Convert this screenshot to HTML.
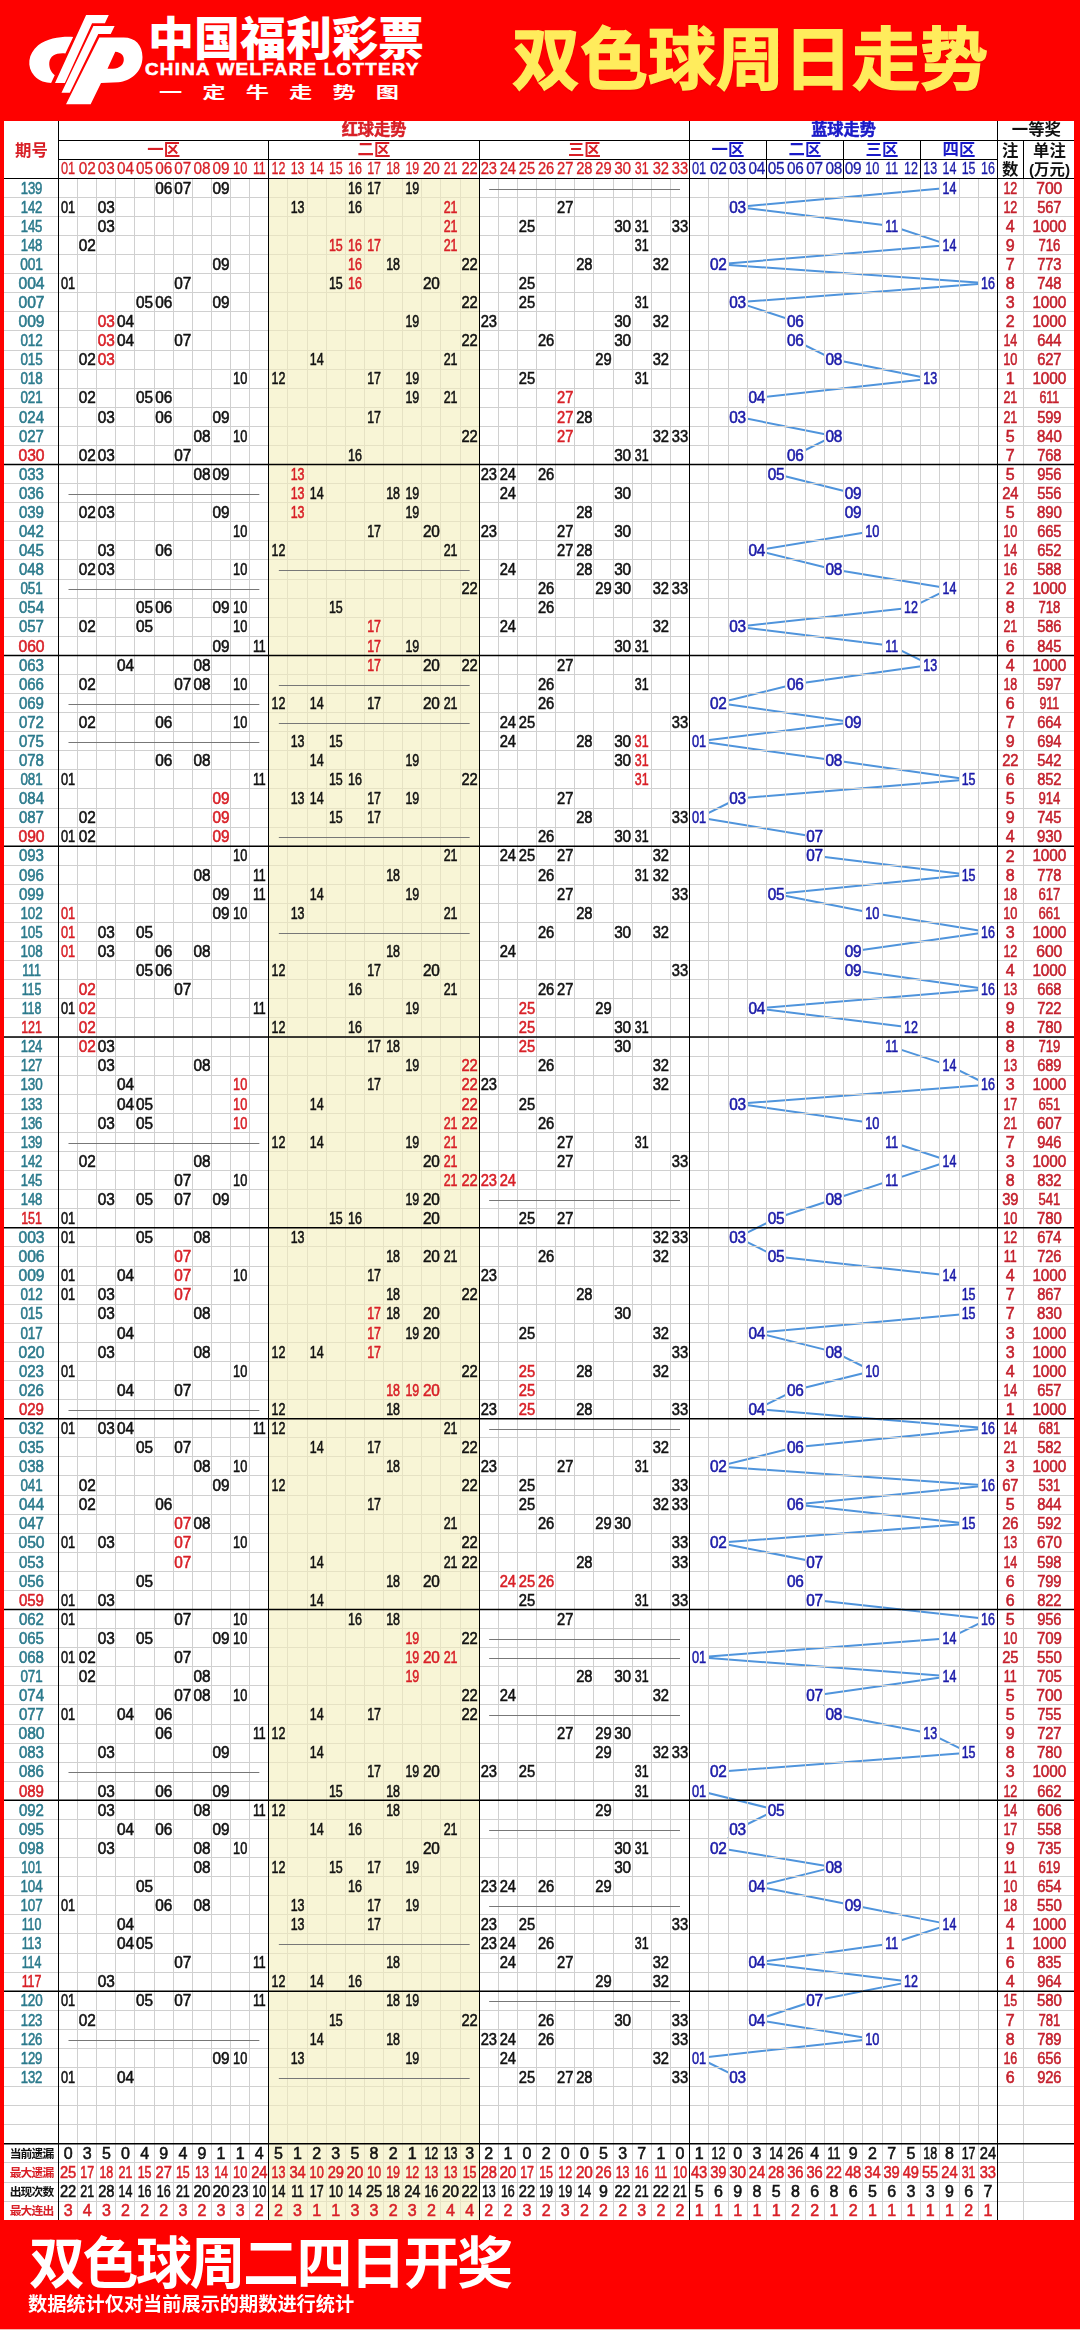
<!DOCTYPE html>
<html lang="zh-CN"><head><meta charset="utf-8"><title>双色球周日走势</title>
<style>
html,body{margin:0;padding:0}
body{width:1080px;height:2330px;background:#fe0100;position:relative;overflow:hidden;font-family:"Liberation Sans","Noto Sans CJK SC",sans-serif}
.chart{position:absolute;left:0;top:0;will-change:transform}
.chart text{text-anchor:middle;font-family:"Liberation Sans","Noto Sans CJK SC",sans-serif}
.n text{font-size:16px;letter-spacing:-0.1px;fill:#111;stroke-width:.55px;paint-order:stroke}
.n text{stroke:#111}
.n .r, .n.r text{fill:#d81f26;stroke:#d81f26}
.n .bl, .n.bl text{fill:#1a1aa8;stroke:#1a1aa8}
.n.hn text{stroke-width:.3px}
.n text{transform-box:fill-box;transform-origin:center}
.s78{transform:scaleX(0.78)}
.s80{transform:scaleX(0.8)}
.s82{transform:scaleX(0.82)}
.s84{transform:scaleX(0.84)}
.s86{transform:scaleX(0.86)}
.s92{transform:scaleX(0.92)}
.s94{transform:scaleX(0.94)}
.s96{transform:scaleX(0.96)}
.s98{transform:scaleX(0.98)}
.n .t{fill:#2b7a8c;stroke:#2b7a8c}
.n .p{fill:#c41f2b;stroke:#c41f2b}
.lab{font-size:11.8px;font-weight:700;letter-spacing:-0.9px;fill:#111}
.lab.r{fill:#d81f26}
.hd text{font-weight:700}
.b14{font-size:16.2px;stroke-width:.5px;paint-order:stroke}.b14.r{stroke:#d81f26}.b14.bl{stroke:#1a1ac8}.b15{font-size:16.4px}.b16{font-size:16.4px}
.hd .r{fill:#d81f26}.hd .bl{fill:#1a1ac8}.hd .k{fill:#111}
.logo{position:absolute;left:20px;top:0}
.cn{position:absolute;left:148px;top:8px;font-size:46px;font-weight:900;color:#fff;white-space:nowrap;line-height:62px;letter-spacing:0}
.en{position:absolute;left:145px;top:58.5px;font-size:17px;font-weight:700;color:#fff;white-space:nowrap;line-height:22px;letter-spacing:1.2px;transform:scaleX(1.1);transform-origin:left center;-webkit-text-stroke:.6px #fff}
.sub{position:absolute;left:159px;top:81.5px;font-size:16px;font-weight:700;color:#fff;white-space:nowrap;line-height:22px;letter-spacing:13.9px;transform:scaleX(1.45);transform-origin:left center}
.title{position:absolute;left:512px;top:15px;font-size:68px;font-weight:700;color:#ffec5c;-webkit-text-stroke:1.4px #ffec5c;white-space:nowrap;line-height:90px;text-shadow:0 1px 2px rgba(150,0,0,.45)}
.edge{position:absolute;left:0;top:2329px;width:1080px;height:1px;background:#f3b9b0}
.f1{position:absolute;left:29px;top:2224px;font-size:56px;font-weight:700;color:#fff;white-space:nowrap;line-height:80px;letter-spacing:-2.5px}
.f2{position:absolute;left:28px;top:2292px;font-size:19.2px;font-weight:700;color:#fff;white-space:nowrap;line-height:26px}
</style></head><body>
<svg class="logo" viewBox="0 0 1080 926" width="140" height="120">
<g fill="#fff">
<path fill-rule="evenodd" d="M410 285 C330 280 215 290 140 350 C60 415 50 520 110 585 C150 628 200 640 240 640 L268 580 C240 560 222 520 226 480 C232 430 280 405 350 412 Z"/>
<path d="M510 115H685L655 180H556L346 640H270Z"/>
<path d="M566 200H730L700 262H604L384 715H320Z"/>
<path fill-rule="evenodd" d="M612 290H800C890 290 945 350 945 440C945 560 850 625 760 635L625 640L545 805H355ZM735 400L675 530C740 535 790 520 800 470C806 430 780 405 735 400Z"/>
</g></svg>
<div class="cn">中国福利彩票</div>
<div class="en">CHINA WELFARE LOTTERY</div>
<div class="sub">一定牛走势图</div>
<div class="title">双色球周日走势</div>
<svg class="chart" width="1080" height="2330" viewBox="0 0 1080 2330">
<defs><clipPath id="wc"><rect x="4" y="121" width="1070" height="2099"/></clipPath></defs>
<rect x="4" y="121" width="1070" height="2099" fill="#fff"/>
<rect x="268.83" y="178.3" width="210.33" height="2041.7" fill="#f8f5d6"/>
<polyline points="949.38,187.84 737.62,206.92 891.62,226.01 949.38,245.09 718.38,264.17 987.88,283.26 737.62,302.34 795.38,321.42 795.38,340.51 833.88,359.59 930.12,378.67 756.88,397.75 737.62,416.84 833.88,435.92 795.38,455 776.12,474.09 853.12,493.17 853.12,512.25 872.38,531.34 756.88,550.42 833.88,569.5 949.38,588.58 910.88,607.67 737.62,626.75 891.62,645.83 930.12,664.92 795.38,684 718.38,703.08 853.12,722.17 699.12,741.25 833.88,760.33 968.62,779.41 737.62,798.5 699.12,817.58 814.62,836.66 814.62,855.75 968.62,874.83 776.12,893.91 872.38,913 987.88,932.08 853.12,951.16 853.12,970.24 987.88,989.33 756.88,1008.41 910.88,1027.49 891.62,1046.58 949.38,1065.66 987.88,1084.74 737.62,1103.83 872.38,1122.91 891.62,1141.99 949.38,1161.07 891.62,1180.16 833.88,1199.24 776.12,1218.32 737.62,1237.41 776.12,1256.49 949.38,1275.57 968.62,1294.66 968.62,1313.74 756.88,1332.82 833.88,1351.9 872.38,1370.99 795.38,1390.07 756.88,1409.15 987.88,1428.24 795.38,1447.32 718.38,1466.4 987.88,1485.49 795.38,1504.57 968.62,1523.65 718.38,1542.73 814.62,1561.82 795.38,1580.9 814.62,1599.98 987.88,1619.07 949.38,1638.15 699.12,1657.23 949.38,1676.32 814.62,1695.4 833.88,1714.48 930.12,1733.56 968.62,1752.65 718.38,1771.73 699.12,1790.81 776.12,1809.9 737.62,1828.98 718.38,1848.06 833.88,1867.15 756.88,1886.23 853.12,1905.31 949.38,1924.39 891.62,1943.48 756.88,1962.56 910.88,1981.64 814.62,2000.73 756.88,2019.81 872.38,2038.89 699.12,2057.98 737.62,2077.06" fill="none" stroke="#4f94dc" stroke-width="2" stroke-linejoin="round"/>
<g fill="#fff">
<rect x="939.75" y="178.3" width="19.25" height="19.08"/>
<rect x="728" y="197.38" width="19.25" height="19.08"/>
<rect x="882" y="216.47" width="19.25" height="19.08"/>
<rect x="939.75" y="235.55" width="19.25" height="19.08"/>
<rect x="708.75" y="254.63" width="19.25" height="19.08"/>
<rect x="978.25" y="273.72" width="19.25" height="19.08"/>
<rect x="728" y="292.8" width="19.25" height="19.08"/>
<rect x="785.75" y="311.88" width="19.25" height="19.08"/>
<rect x="785.75" y="330.96" width="19.25" height="19.08"/>
<rect x="824.25" y="350.05" width="19.25" height="19.08"/>
<rect x="920.5" y="369.13" width="19.25" height="19.08"/>
<rect x="747.25" y="388.21" width="19.25" height="19.08"/>
<rect x="728" y="407.3" width="19.25" height="19.08"/>
<rect x="824.25" y="426.38" width="19.25" height="19.08"/>
<rect x="785.75" y="445.46" width="19.25" height="19.08"/>
<rect x="766.5" y="464.55" width="19.25" height="19.08"/>
<rect x="843.5" y="483.63" width="19.25" height="19.08"/>
<rect x="843.5" y="502.71" width="19.25" height="19.08"/>
<rect x="862.75" y="521.79" width="19.25" height="19.08"/>
<rect x="747.25" y="540.88" width="19.25" height="19.08"/>
<rect x="824.25" y="559.96" width="19.25" height="19.08"/>
<rect x="939.75" y="579.04" width="19.25" height="19.08"/>
<rect x="901.25" y="598.13" width="19.25" height="19.08"/>
<rect x="728" y="617.21" width="19.25" height="19.08"/>
<rect x="882" y="636.29" width="19.25" height="19.08"/>
<rect x="920.5" y="655.38" width="19.25" height="19.08"/>
<rect x="785.75" y="674.46" width="19.25" height="19.08"/>
<rect x="708.75" y="693.54" width="19.25" height="19.08"/>
<rect x="843.5" y="712.62" width="19.25" height="19.08"/>
<rect x="689.5" y="731.71" width="19.25" height="19.08"/>
<rect x="824.25" y="750.79" width="19.25" height="19.08"/>
<rect x="959" y="769.87" width="19.25" height="19.08"/>
<rect x="728" y="788.96" width="19.25" height="19.08"/>
<rect x="689.5" y="808.04" width="19.25" height="19.08"/>
<rect x="805" y="827.12" width="19.25" height="19.08"/>
<rect x="805" y="846.2" width="19.25" height="19.08"/>
<rect x="959" y="865.29" width="19.25" height="19.08"/>
<rect x="766.5" y="884.37" width="19.25" height="19.08"/>
<rect x="862.75" y="903.45" width="19.25" height="19.08"/>
<rect x="978.25" y="922.54" width="19.25" height="19.08"/>
<rect x="843.5" y="941.62" width="19.25" height="19.08"/>
<rect x="843.5" y="960.7" width="19.25" height="19.08"/>
<rect x="978.25" y="979.79" width="19.25" height="19.08"/>
<rect x="747.25" y="998.87" width="19.25" height="19.08"/>
<rect x="901.25" y="1017.95" width="19.25" height="19.08"/>
<rect x="882" y="1037.03" width="19.25" height="19.08"/>
<rect x="939.75" y="1056.12" width="19.25" height="19.08"/>
<rect x="978.25" y="1075.2" width="19.25" height="19.08"/>
<rect x="728" y="1094.28" width="19.25" height="19.08"/>
<rect x="862.75" y="1113.37" width="19.25" height="19.08"/>
<rect x="882" y="1132.45" width="19.25" height="19.08"/>
<rect x="939.75" y="1151.53" width="19.25" height="19.08"/>
<rect x="882" y="1170.62" width="19.25" height="19.08"/>
<rect x="824.25" y="1189.7" width="19.25" height="19.08"/>
<rect x="766.5" y="1208.78" width="19.25" height="19.08"/>
<rect x="728" y="1227.86" width="19.25" height="19.08"/>
<rect x="766.5" y="1246.95" width="19.25" height="19.08"/>
<rect x="939.75" y="1266.03" width="19.25" height="19.08"/>
<rect x="959" y="1285.11" width="19.25" height="19.08"/>
<rect x="959" y="1304.2" width="19.25" height="19.08"/>
<rect x="747.25" y="1323.28" width="19.25" height="19.08"/>
<rect x="824.25" y="1342.36" width="19.25" height="19.08"/>
<rect x="862.75" y="1361.45" width="19.25" height="19.08"/>
<rect x="785.75" y="1380.53" width="19.25" height="19.08"/>
<rect x="747.25" y="1399.61" width="19.25" height="19.08"/>
<rect x="978.25" y="1418.69" width="19.25" height="19.08"/>
<rect x="785.75" y="1437.78" width="19.25" height="19.08"/>
<rect x="708.75" y="1456.86" width="19.25" height="19.08"/>
<rect x="978.25" y="1475.94" width="19.25" height="19.08"/>
<rect x="785.75" y="1495.03" width="19.25" height="19.08"/>
<rect x="959" y="1514.11" width="19.25" height="19.08"/>
<rect x="708.75" y="1533.19" width="19.25" height="19.08"/>
<rect x="805" y="1552.28" width="19.25" height="19.08"/>
<rect x="785.75" y="1571.36" width="19.25" height="19.08"/>
<rect x="805" y="1590.44" width="19.25" height="19.08"/>
<rect x="978.25" y="1609.52" width="19.25" height="19.08"/>
<rect x="939.75" y="1628.61" width="19.25" height="19.08"/>
<rect x="689.5" y="1647.69" width="19.25" height="19.08"/>
<rect x="939.75" y="1666.77" width="19.25" height="19.08"/>
<rect x="805" y="1685.86" width="19.25" height="19.08"/>
<rect x="824.25" y="1704.94" width="19.25" height="19.08"/>
<rect x="920.5" y="1724.02" width="19.25" height="19.08"/>
<rect x="959" y="1743.11" width="19.25" height="19.08"/>
<rect x="708.75" y="1762.19" width="19.25" height="19.08"/>
<rect x="689.5" y="1781.27" width="19.25" height="19.08"/>
<rect x="766.5" y="1800.35" width="19.25" height="19.08"/>
<rect x="728" y="1819.44" width="19.25" height="19.08"/>
<rect x="708.75" y="1838.52" width="19.25" height="19.08"/>
<rect x="824.25" y="1857.6" width="19.25" height="19.08"/>
<rect x="747.25" y="1876.69" width="19.25" height="19.08"/>
<rect x="843.5" y="1895.77" width="19.25" height="19.08"/>
<rect x="939.75" y="1914.85" width="19.25" height="19.08"/>
<rect x="882" y="1933.94" width="19.25" height="19.08"/>
<rect x="747.25" y="1953.02" width="19.25" height="19.08"/>
<rect x="901.25" y="1972.1" width="19.25" height="19.08"/>
<rect x="805" y="1991.18" width="19.25" height="19.08"/>
<rect x="747.25" y="2010.27" width="19.25" height="19.08"/>
<rect x="862.75" y="2029.35" width="19.25" height="19.08"/>
<rect x="689.5" y="2048.43" width="19.25" height="19.08"/>
<rect x="728" y="2067.52" width="19.25" height="19.08"/>
</g>
<path d="M4 197.5H1074M4 216.5H1074M4 235.5H1074M4 254.5H1074M4 273.5H1074M4 292.5H1074M4 311.5H1074M4 330.5H1074M4 350.5H1074M4 369.5H1074M4 388.5H1074M4 407.5H1074M4 426.5H1074M4 445.5H1074M4 464.5H1074M4 483.5H1074M4 502.5H1074M4 521.5H1074M4 540.5H1074M4 559.5H1074M4 579.5H1074M4 598.5H1074M4 617.5H1074M4 636.5H1074M4 655.5H1074M4 674.5H1074M4 693.5H1074M4 712.5H1074M4 731.5H1074M4 750.5H1074M4 769.5H1074M4 788.5H1074M4 808.5H1074M4 827.5H1074M4 846.5H1074M4 865.5H1074M4 884.5H1074M4 903.5H1074M4 922.5H1074M4 941.5H1074M4 960.5H1074M4 979.5H1074M4 998.5H1074M4 1017.5H1074M4 1037.5H1074M4 1056.5H1074M4 1075.5H1074M4 1094.5H1074M4 1113.5H1074M4 1132.5H1074M4 1151.5H1074M4 1170.5H1074M4 1189.5H1074M4 1208.5H1074M4 1227.5H1074M4 1246.5H1074M4 1266.5H1074M4 1285.5H1074M4 1304.5H1074M4 1323.5H1074M4 1342.5H1074M4 1361.5H1074M4 1380.5H1074M4 1399.5H1074M4 1418.5H1074M4 1437.5H1074M4 1456.5H1074M4 1475.5H1074M4 1495.5H1074M4 1514.5H1074M4 1533.5H1074M4 1552.5H1074M4 1571.5H1074M4 1590.5H1074M4 1609.5H1074M4 1628.5H1074M4 1647.5H1074M4 1666.5H1074M4 1685.5H1074M4 1704.5H1074M4 1724.5H1074M4 1743.5H1074M4 1762.5H1074M4 1781.5H1074M4 1800.5H1074M4 1819.5H1074M4 1838.5H1074M4 1857.5H1074M4 1876.5H1074M4 1895.5H1074M4 1914.5H1074M4 1933.5H1074M4 1953.5H1074M4 1972.5H1074M4 1991.5H1074M4 2010.5H1074M4 2029.5H1074M4 2048.5H1074M4 2067.5H1074M4 2086.5H1074M4 2105.5H1074M4 2124.5H1074M4 2143.5H1074M4 2162.5H1074M4 2182.5H1074M4 2201.5H1074" stroke="#d0d0d0" stroke-width="1" fill="none"/>
<path d="M77.5 178.3V2220M96.5 178.3V2220M115.5 178.3V2220M134.5 178.3V2220M154.5 178.3V2220M173.5 178.3V2220M192.5 178.3V2220M211.5 178.3V2220M230.5 178.3V2220M249.5 178.3V2220M268.5 178.3V2220M287.5 178.3V2220M307.5 178.3V2220M326.5 178.3V2220M345.5 178.3V2220M364.5 178.3V2220M383.5 178.3V2220M402.5 178.3V2220M421.5 178.3V2220M440.5 178.3V2220M460.5 178.3V2220M479.5 178.3V2220M498.5 178.3V2220M517.5 178.3V2220M536.5 178.3V2220M555.5 178.3V2220M574.5 178.3V2220M593.5 178.3V2220M613.5 178.3V2220M632.5 178.3V2220M651.5 178.3V2220M670.5 178.3V2220M708.5 178.3V2220M728.5 178.3V2220M747.5 178.3V2220M766.5 178.3V2220M785.5 178.3V2220M805.5 178.3V2220M824.5 178.3V2220M843.5 178.3V2220M862.5 178.3V2220M882.5 178.3V2220M901.5 178.3V2220M920.5 178.3V2220M939.5 178.3V2220M959.5 178.3V2220M978.5 178.3V2220M1023.5 178.3V2220" stroke="#d0d0d0" stroke-width="1" fill="none"/>
<path d="M268.83 197.5H479.17M268.83 216.5H479.17M268.83 235.5H479.17M268.83 254.5H479.17M268.83 273.5H479.17M268.83 292.5H479.17M268.83 311.5H479.17M268.83 330.5H479.17M268.83 350.5H479.17M268.83 369.5H479.17M268.83 388.5H479.17M268.83 407.5H479.17M268.83 426.5H479.17M268.83 445.5H479.17M268.83 464.5H479.17M268.83 483.5H479.17M268.83 502.5H479.17M268.83 521.5H479.17M268.83 540.5H479.17M268.83 559.5H479.17M268.83 579.5H479.17M268.83 598.5H479.17M268.83 617.5H479.17M268.83 636.5H479.17M268.83 655.5H479.17M268.83 674.5H479.17M268.83 693.5H479.17M268.83 712.5H479.17M268.83 731.5H479.17M268.83 750.5H479.17M268.83 769.5H479.17M268.83 788.5H479.17M268.83 808.5H479.17M268.83 827.5H479.17M268.83 846.5H479.17M268.83 865.5H479.17M268.83 884.5H479.17M268.83 903.5H479.17M268.83 922.5H479.17M268.83 941.5H479.17M268.83 960.5H479.17M268.83 979.5H479.17M268.83 998.5H479.17M268.83 1017.5H479.17M268.83 1037.5H479.17M268.83 1056.5H479.17M268.83 1075.5H479.17M268.83 1094.5H479.17M268.83 1113.5H479.17M268.83 1132.5H479.17M268.83 1151.5H479.17M268.83 1170.5H479.17M268.83 1189.5H479.17M268.83 1208.5H479.17M268.83 1227.5H479.17M268.83 1246.5H479.17M268.83 1266.5H479.17M268.83 1285.5H479.17M268.83 1304.5H479.17M268.83 1323.5H479.17M268.83 1342.5H479.17M268.83 1361.5H479.17M268.83 1380.5H479.17M268.83 1399.5H479.17M268.83 1418.5H479.17M268.83 1437.5H479.17M268.83 1456.5H479.17M268.83 1475.5H479.17M268.83 1495.5H479.17M268.83 1514.5H479.17M268.83 1533.5H479.17M268.83 1552.5H479.17M268.83 1571.5H479.17M268.83 1590.5H479.17M268.83 1609.5H479.17M268.83 1628.5H479.17M268.83 1647.5H479.17M268.83 1666.5H479.17M268.83 1685.5H479.17M268.83 1704.5H479.17M268.83 1724.5H479.17M268.83 1743.5H479.17M268.83 1762.5H479.17M268.83 1781.5H479.17M268.83 1800.5H479.17M268.83 1819.5H479.17M268.83 1838.5H479.17M268.83 1857.5H479.17M268.83 1876.5H479.17M268.83 1895.5H479.17M268.83 1914.5H479.17M268.83 1933.5H479.17M268.83 1953.5H479.17M268.83 1972.5H479.17M268.83 1991.5H479.17M268.83 2010.5H479.17M268.83 2029.5H479.17M268.83 2048.5H479.17M268.83 2067.5H479.17M268.83 2086.5H479.17M268.83 2105.5H479.17M268.83 2124.5H479.17M268.83 2143.5H479.17M268.83 2162.5H479.17M268.83 2182.5H479.17M268.83 2201.5H479.17M287.5 178.3V2220M307.5 178.3V2220M326.5 178.3V2220M345.5 178.3V2220M364.5 178.3V2220M383.5 178.3V2220M402.5 178.3V2220M421.5 178.3V2220M440.5 178.3V2220M460.5 178.3V2220" stroke="#e6e2c4" stroke-width="1" fill="none"/>
<path d="M58.5 140.3H1074M58.5 159.3H997.5M4 178.3H1074M58.5 121V2220M689.5 121V2220M997.5 121V2220M268.83 140.3V2220M479.17 140.3V2220M1023 140.3V178.3M766.5 140.3V178.3M843.5 140.3V178.3M920.5 140.3V178.3" stroke="#000" stroke-width="1" fill="none" shape-rendering="crispEdges"/>
<path d="M4 464.55H1074M4 655.38H1074M4 846.2H1074M4 1037.03H1074M4 1227.86H1074M4 1418.69H1074M4 1609.52H1074M4 1800.35H1074M4 1991.18H1074M4 2143.85H1074" stroke="#000" stroke-width="1.5" fill="none"/>
<path d="M489.17 189.5H680M68.5 494.5H259.33M278.83 570.5H469.67M68.5 589.5H259.33M278.83 685.5H469.67M68.5 704.5H259.33M278.83 723.5H469.67M68.5 742.5H259.33M278.83 837.5H469.67M278.83 933.5H469.67M68.5 1143.5H259.33M489.17 1200.5H680M68.5 1410.5H259.33M489.17 1429.5H680M489.17 1639.5H680M489.17 1658.5H680M489.17 1715.5H680M68.5 1772.5H259.33M489.17 1830.5H680M489.17 1906.5H680M278.83 1944.5H469.67M489.17 2001.5H680M68.5 2040.5H259.33M278.83 2078.5H469.67" stroke="#777" stroke-width="1" fill="none"/>
<g class="hd">
<text class="b16 r" x="31.5" y="156">期号</text>
<text class="b14 r" x="374" y="134.8">红球走势</text>
<text class="b14 bl" x="843.5" y="134.8">蓝球走势</text>
<text class="b15 r" x="163.67" y="155">一区</text>
<text class="b15 r" x="374" y="155">二区</text>
<text class="b15 r" x="584.33" y="155">三区</text>
<text class="b15 bl" x="728" y="155">一区</text>
<text class="b15 bl" x="805" y="155">二区</text>
<text class="b15 bl" x="882" y="155">三区</text>
<text class="b15 bl" x="959" y="155">四区</text>
<text class="b16 k" x="1036.35" y="135.2" clip-path="url(#wc)">一等奖</text>
<text class="b16 k" x="1010.25" y="156">注</text><text class="b16 k" x="1010.25" y="175">数</text>
<text class="b16 k" x="1049.5" y="156">单注</text><text class="b15 k" style="font-size:15.4px" x="1049.5" y="174.6">(万元)</text>
</g>
<g class="n r hn" transform="scale(1 1)">
<text class="s80" x="68.06" y="173.9">01</text>
<text class="s96" x="87.18" y="173.9">02</text>
<text class="s96" x="106.3" y="173.9">03</text>
<text class="s96" x="125.42" y="173.9">04</text>
<text class="s96" x="144.55" y="173.9">05</text>
<text class="s96" x="163.67" y="173.9">06</text>
<text class="s96" x="182.79" y="173.9">07</text>
<text class="s96" x="201.91" y="173.9">08</text>
<text class="s96" x="221.03" y="173.9">09</text>
<text class="s80" x="240.15" y="173.9">10</text>
<text class="s78" x="259.27" y="173.9">11</text>
<text class="s78" x="278.39" y="173.9">12</text>
<text class="s78" x="297.52" y="173.9">13</text>
<text class="s78" x="316.64" y="173.9">14</text>
<text class="s78" x="335.76" y="173.9">15</text>
<text class="s78" x="354.88" y="173.9">16</text>
<text class="s78" x="374" y="173.9">17</text>
<text class="s78" x="393.12" y="173.9">18</text>
<text class="s78" x="412.24" y="173.9">19</text>
<text class="s96" x="431.36" y="173.9">20</text>
<text class="s78" x="450.48" y="173.9">21</text>
<text class="s92" x="469.61" y="173.9">22</text>
<text class="s92" x="488.73" y="173.9">23</text>
<text class="s92" x="507.85" y="173.9">24</text>
<text class="s92" x="526.97" y="173.9">25</text>
<text class="s92" x="546.09" y="173.9">26</text>
<text class="s92" x="565.21" y="173.9">27</text>
<text class="s92" x="584.33" y="173.9">28</text>
<text class="s92" x="603.45" y="173.9">29</text>
<text class="s96" x="622.58" y="173.9">30</text>
<text class="s78" x="641.7" y="173.9">31</text>
<text class="s92" x="660.82" y="173.9">32</text>
<text class="s92" x="679.94" y="173.9">33</text>
</g><g class="n bl hn" transform="scale(1 1)">
<text class="s80" x="699.12" y="173.9">01</text>
<text class="s96" x="718.38" y="173.9">02</text>
<text class="s96" x="737.62" y="173.9">03</text>
<text class="s96" x="756.88" y="173.9">04</text>
<text class="s96" x="776.12" y="173.9">05</text>
<text class="s96" x="795.38" y="173.9">06</text>
<text class="s96" x="814.62" y="173.9">07</text>
<text class="s96" x="833.88" y="173.9">08</text>
<text class="s96" x="853.12" y="173.9">09</text>
<text class="s80" x="872.38" y="173.9">10</text>
<text class="s78" x="891.62" y="173.9">11</text>
<text class="s78" x="910.88" y="173.9">12</text>
<text class="s78" x="930.12" y="173.9">13</text>
<text class="s78" x="949.38" y="173.9">14</text>
<text class="s78" x="968.62" y="173.9">15</text>
<text class="s78" x="987.88" y="173.9">16</text>
</g>
<g class="n" transform="scale(1 1)">
<text class="t s82" x="31.5" y="193.59">139</text>
<text class="s96" x="163.67" y="193.59">06</text>
<text class="s96" x="182.79" y="193.59">07</text>
<text class="s96" x="221.03" y="193.59">09</text>
<text class="s78" x="354.88" y="193.59">16</text>
<text class="s78" x="374" y="193.59">17</text>
<text class="s78" x="412.24" y="193.59">19</text>
<text class="bl s78" x="949.38" y="193.59">14</text>
<text class="p s78" x="1010.25" y="193.59">12</text>
<text class="p s98" x="1049.3" y="193.59">700</text>
</g>
<g class="n" transform="scale(1 1)">
<text class="t s82" x="31.5" y="212.67">142</text>
<text class="s80" x="68.06" y="212.67">01</text>
<text class="s96" x="106.3" y="212.67">03</text>
<text class="s78" x="297.52" y="212.67">13</text>
<text class="s78" x="354.88" y="212.67">16</text>
<text class="r s78" x="450.48" y="212.67">21</text>
<text class="s92" x="565.21" y="212.67">27</text>
<text class="bl s96" x="737.62" y="212.67">03</text>
<text class="p s78" x="1010.25" y="212.67">12</text>
<text class="p s92" x="1049.3" y="212.67">567</text>
</g>
<g class="n" transform="scale(1 1)">
<text class="t s82" x="31.5" y="231.76">145</text>
<text class="s96" x="106.3" y="231.76">03</text>
<text class="r s78" x="450.48" y="231.76">21</text>
<text class="s92" x="526.97" y="231.76">25</text>
<text class="s96" x="622.58" y="231.76">30</text>
<text class="s78" x="641.7" y="231.76">31</text>
<text class="s92" x="679.94" y="231.76">33</text>
<text class="bl s78" x="891.62" y="231.76">11</text>
<text class="p" x="1010.25" y="231.76">4</text>
<text class="p s96" x="1049.3" y="231.76">1000</text>
</g>
<g class="n" transform="scale(1 1)">
<text class="t s82" x="31.5" y="250.84">148</text>
<text class="s96" x="87.18" y="250.84">02</text>
<text class="r s78" x="335.76" y="250.84">15</text>
<text class="r s78" x="354.88" y="250.84">16</text>
<text class="r s78" x="374" y="250.84">17</text>
<text class="r s78" x="450.48" y="250.84">21</text>
<text class="s78" x="641.7" y="250.84">31</text>
<text class="bl s78" x="949.38" y="250.84">14</text>
<text class="p" x="1010.25" y="250.84">9</text>
<text class="p s82" x="1049.3" y="250.84">716</text>
</g>
<g class="n" transform="scale(1 1)">
<text class="t s86" x="31.5" y="269.92">001</text>
<text class="s96" x="221.03" y="269.92">09</text>
<text class="r s78" x="354.88" y="269.92">16</text>
<text class="s78" x="393.12" y="269.92">18</text>
<text class="s92" x="469.61" y="269.92">22</text>
<text class="s92" x="584.33" y="269.92">28</text>
<text class="s92" x="660.82" y="269.92">32</text>
<text class="bl s96" x="718.38" y="269.92">02</text>
<text class="p" x="1010.25" y="269.92">7</text>
<text class="p s92" x="1049.3" y="269.92">773</text>
</g>
<g class="n" transform="scale(1 1)">
<text class="t s98" x="31.5" y="289.01">004</text>
<text class="s80" x="68.06" y="289.01">01</text>
<text class="s96" x="182.79" y="289.01">07</text>
<text class="s78" x="335.76" y="289.01">15</text>
<text class="r s78" x="354.88" y="289.01">16</text>
<text class="s96" x="431.36" y="289.01">20</text>
<text class="s92" x="526.97" y="289.01">25</text>
<text class="bl s78" x="987.88" y="289.01">16</text>
<text class="p" x="1010.25" y="289.01">8</text>
<text class="p s92" x="1049.3" y="289.01">748</text>
</g>
<g class="n" transform="scale(1 1)">
<text class="t s98" x="31.5" y="308.09">007</text>
<text class="s96" x="144.55" y="308.09">05</text>
<text class="s96" x="163.67" y="308.09">06</text>
<text class="s96" x="221.03" y="308.09">09</text>
<text class="s92" x="469.61" y="308.09">22</text>
<text class="s92" x="526.97" y="308.09">25</text>
<text class="s78" x="641.7" y="308.09">31</text>
<text class="bl s96" x="737.62" y="308.09">03</text>
<text class="p" x="1010.25" y="308.09">3</text>
<text class="p s96" x="1049.3" y="308.09">1000</text>
</g>
<g class="n" transform="scale(1 1)">
<text class="t s98" x="31.5" y="327.17">009</text>
<text class="r s96" x="106.3" y="327.17">03</text>
<text class="s96" x="125.42" y="327.17">04</text>
<text class="s78" x="412.24" y="327.17">19</text>
<text class="s92" x="488.73" y="327.17">23</text>
<text class="s96" x="622.58" y="327.17">30</text>
<text class="s92" x="660.82" y="327.17">32</text>
<text class="bl s96" x="795.38" y="327.17">06</text>
<text class="p" x="1010.25" y="327.17">2</text>
<text class="p s96" x="1049.3" y="327.17">1000</text>
</g>
<g class="n" transform="scale(1 1)">
<text class="t s84" x="31.5" y="346.26">012</text>
<text class="r s96" x="106.3" y="346.26">03</text>
<text class="s96" x="125.42" y="346.26">04</text>
<text class="s96" x="182.79" y="346.26">07</text>
<text class="s92" x="469.61" y="346.26">22</text>
<text class="s92" x="546.09" y="346.26">26</text>
<text class="s96" x="622.58" y="346.26">30</text>
<text class="bl s96" x="795.38" y="346.26">06</text>
<text class="p s78" x="1010.25" y="346.26">14</text>
<text class="p s92" x="1049.3" y="346.26">644</text>
</g>
<g class="n" transform="scale(1 1)">
<text class="t s84" x="31.5" y="365.34">015</text>
<text class="s96" x="87.18" y="365.34">02</text>
<text class="r s96" x="106.3" y="365.34">03</text>
<text class="s78" x="316.64" y="365.34">14</text>
<text class="s78" x="450.48" y="365.34">21</text>
<text class="s92" x="603.45" y="365.34">29</text>
<text class="s92" x="660.82" y="365.34">32</text>
<text class="bl s96" x="833.88" y="365.34">08</text>
<text class="p s80" x="1010.25" y="365.34">10</text>
<text class="p s92" x="1049.3" y="365.34">627</text>
</g>
<g class="n" transform="scale(1 1)">
<text class="t s84" x="31.5" y="384.42">018</text>
<text class="s80" x="240.15" y="384.42">10</text>
<text class="s78" x="278.39" y="384.42">12</text>
<text class="s78" x="374" y="384.42">17</text>
<text class="s78" x="412.24" y="384.42">19</text>
<text class="s92" x="526.97" y="384.42">25</text>
<text class="s78" x="641.7" y="384.42">31</text>
<text class="bl s78" x="930.12" y="384.42">13</text>
<text class="p" x="1010.25" y="384.42">1</text>
<text class="p s96" x="1049.3" y="384.42">1000</text>
</g>
<g class="n" transform="scale(1 1)">
<text class="t s84" x="31.5" y="403.5">021</text>
<text class="s96" x="87.18" y="403.5">02</text>
<text class="s96" x="144.55" y="403.5">05</text>
<text class="s96" x="163.67" y="403.5">06</text>
<text class="s78" x="412.24" y="403.5">19</text>
<text class="s78" x="450.48" y="403.5">21</text>
<text class="r s92" x="565.21" y="403.5">27</text>
<text class="bl s96" x="756.88" y="403.5">04</text>
<text class="p s78" x="1010.25" y="403.5">21</text>
<text class="p s78" x="1049.3" y="403.5">611</text>
</g>
<g class="n" transform="scale(1 1)">
<text class="t s94" x="31.5" y="422.59">024</text>
<text class="s96" x="106.3" y="422.59">03</text>
<text class="s96" x="163.67" y="422.59">06</text>
<text class="s96" x="221.03" y="422.59">09</text>
<text class="s78" x="374" y="422.59">17</text>
<text class="r s92" x="565.21" y="422.59">27</text>
<text class="s92" x="584.33" y="422.59">28</text>
<text class="bl s96" x="737.62" y="422.59">03</text>
<text class="p s78" x="1010.25" y="422.59">21</text>
<text class="p s92" x="1049.3" y="422.59">599</text>
</g>
<g class="n" transform="scale(1 1)">
<text class="t s94" x="31.5" y="441.67">027</text>
<text class="s96" x="201.91" y="441.67">08</text>
<text class="s80" x="240.15" y="441.67">10</text>
<text class="s92" x="469.61" y="441.67">22</text>
<text class="r s92" x="565.21" y="441.67">27</text>
<text class="s92" x="660.82" y="441.67">32</text>
<text class="s92" x="679.94" y="441.67">33</text>
<text class="bl s96" x="833.88" y="441.67">08</text>
<text class="p" x="1010.25" y="441.67">5</text>
<text class="p s94" x="1049.3" y="441.67">840</text>
</g>
<g class="n" transform="scale(1 1)">
<text class="r s98" x="31.5" y="460.75">030</text>
<text class="s96" x="87.18" y="460.75">02</text>
<text class="s96" x="106.3" y="460.75">03</text>
<text class="s96" x="182.79" y="460.75">07</text>
<text class="s78" x="354.88" y="460.75">16</text>
<text class="s96" x="622.58" y="460.75">30</text>
<text class="s78" x="641.7" y="460.75">31</text>
<text class="bl s96" x="795.38" y="460.75">06</text>
<text class="p" x="1010.25" y="460.75">7</text>
<text class="p s92" x="1049.3" y="460.75">768</text>
</g>
<g class="n" transform="scale(1 1)">
<text class="t s94" x="31.5" y="479.84">033</text>
<text class="s96" x="201.91" y="479.84">08</text>
<text class="s96" x="221.03" y="479.84">09</text>
<text class="r s78" x="297.52" y="479.84">13</text>
<text class="s92" x="488.73" y="479.84">23</text>
<text class="s92" x="507.85" y="479.84">24</text>
<text class="s92" x="546.09" y="479.84">26</text>
<text class="bl s96" x="776.12" y="479.84">05</text>
<text class="p" x="1010.25" y="479.84">5</text>
<text class="p s92" x="1049.3" y="479.84">956</text>
</g>
<g class="n" transform="scale(1 1)">
<text class="t s94" x="31.5" y="498.92">036</text>
<text class="r s78" x="297.52" y="498.92">13</text>
<text class="s78" x="316.64" y="498.92">14</text>
<text class="s78" x="393.12" y="498.92">18</text>
<text class="s78" x="412.24" y="498.92">19</text>
<text class="s92" x="507.85" y="498.92">24</text>
<text class="s96" x="622.58" y="498.92">30</text>
<text class="bl s96" x="853.12" y="498.92">09</text>
<text class="p s92" x="1010.25" y="498.92">24</text>
<text class="p s92" x="1049.3" y="498.92">556</text>
</g>
<g class="n" transform="scale(1 1)">
<text class="t s94" x="31.5" y="518">039</text>
<text class="s96" x="87.18" y="518">02</text>
<text class="s96" x="106.3" y="518">03</text>
<text class="s96" x="221.03" y="518">09</text>
<text class="r s78" x="297.52" y="518">13</text>
<text class="s78" x="412.24" y="518">19</text>
<text class="s92" x="584.33" y="518">28</text>
<text class="bl s96" x="853.12" y="518">09</text>
<text class="p" x="1010.25" y="518">5</text>
<text class="p s94" x="1049.3" y="518">890</text>
</g>
<g class="n" transform="scale(1 1)">
<text class="t s94" x="31.5" y="537.09">042</text>
<text class="s80" x="240.15" y="537.09">10</text>
<text class="s78" x="374" y="537.09">17</text>
<text class="s96" x="431.36" y="537.09">20</text>
<text class="s92" x="488.73" y="537.09">23</text>
<text class="s92" x="565.21" y="537.09">27</text>
<text class="s96" x="622.58" y="537.09">30</text>
<text class="bl s80" x="872.38" y="537.09">10</text>
<text class="p s80" x="1010.25" y="537.09">10</text>
<text class="p s92" x="1049.3" y="537.09">665</text>
</g>
<g class="n" transform="scale(1 1)">
<text class="t s94" x="31.5" y="556.17">045</text>
<text class="s96" x="106.3" y="556.17">03</text>
<text class="s96" x="163.67" y="556.17">06</text>
<text class="s78" x="278.39" y="556.17">12</text>
<text class="s78" x="450.48" y="556.17">21</text>
<text class="s92" x="565.21" y="556.17">27</text>
<text class="s92" x="584.33" y="556.17">28</text>
<text class="bl s96" x="756.88" y="556.17">04</text>
<text class="p s78" x="1010.25" y="556.17">14</text>
<text class="p s92" x="1049.3" y="556.17">652</text>
</g>
<g class="n" transform="scale(1 1)">
<text class="t s94" x="31.5" y="575.25">048</text>
<text class="s96" x="87.18" y="575.25">02</text>
<text class="s96" x="106.3" y="575.25">03</text>
<text class="s80" x="240.15" y="575.25">10</text>
<text class="s92" x="507.85" y="575.25">24</text>
<text class="s92" x="584.33" y="575.25">28</text>
<text class="s96" x="622.58" y="575.25">30</text>
<text class="bl s96" x="833.88" y="575.25">08</text>
<text class="p s78" x="1010.25" y="575.25">16</text>
<text class="p s92" x="1049.3" y="575.25">588</text>
</g>
<g class="n" transform="scale(1 1)">
<text class="t s84" x="31.5" y="594.33">051</text>
<text class="s92" x="469.61" y="594.33">22</text>
<text class="s92" x="546.09" y="594.33">26</text>
<text class="s92" x="603.45" y="594.33">29</text>
<text class="s96" x="622.58" y="594.33">30</text>
<text class="s92" x="660.82" y="594.33">32</text>
<text class="s92" x="679.94" y="594.33">33</text>
<text class="bl s78" x="949.38" y="594.33">14</text>
<text class="p" x="1010.25" y="594.33">2</text>
<text class="p s96" x="1049.3" y="594.33">1000</text>
</g>
<g class="n" transform="scale(1 1)">
<text class="t s94" x="31.5" y="613.42">054</text>
<text class="s96" x="144.55" y="613.42">05</text>
<text class="s96" x="163.67" y="613.42">06</text>
<text class="s96" x="221.03" y="613.42">09</text>
<text class="s80" x="240.15" y="613.42">10</text>
<text class="s78" x="335.76" y="613.42">15</text>
<text class="s92" x="546.09" y="613.42">26</text>
<text class="bl s78" x="910.88" y="613.42">12</text>
<text class="p" x="1010.25" y="613.42">8</text>
<text class="p s82" x="1049.3" y="613.42">718</text>
</g>
<g class="n" transform="scale(1 1)">
<text class="t s94" x="31.5" y="632.5">057</text>
<text class="s96" x="87.18" y="632.5">02</text>
<text class="s96" x="144.55" y="632.5">05</text>
<text class="s80" x="240.15" y="632.5">10</text>
<text class="r s78" x="374" y="632.5">17</text>
<text class="s92" x="507.85" y="632.5">24</text>
<text class="s92" x="660.82" y="632.5">32</text>
<text class="bl s96" x="737.62" y="632.5">03</text>
<text class="p s78" x="1010.25" y="632.5">21</text>
<text class="p s92" x="1049.3" y="632.5">586</text>
</g>
<g class="n" transform="scale(1 1)">
<text class="r s98" x="31.5" y="651.58">060</text>
<text class="s96" x="221.03" y="651.58">09</text>
<text class="s78" x="259.27" y="651.58">11</text>
<text class="r s78" x="374" y="651.58">17</text>
<text class="s78" x="412.24" y="651.58">19</text>
<text class="s96" x="622.58" y="651.58">30</text>
<text class="s78" x="641.7" y="651.58">31</text>
<text class="bl s78" x="891.62" y="651.58">11</text>
<text class="p" x="1010.25" y="651.58">6</text>
<text class="p s92" x="1049.3" y="651.58">845</text>
</g>
<g class="n" transform="scale(1 1)">
<text class="t s94" x="31.5" y="670.67">063</text>
<text class="s96" x="125.42" y="670.67">04</text>
<text class="s96" x="201.91" y="670.67">08</text>
<text class="r s78" x="374" y="670.67">17</text>
<text class="s96" x="431.36" y="670.67">20</text>
<text class="s92" x="469.61" y="670.67">22</text>
<text class="s92" x="565.21" y="670.67">27</text>
<text class="bl s78" x="930.12" y="670.67">13</text>
<text class="p" x="1010.25" y="670.67">4</text>
<text class="p s96" x="1049.3" y="670.67">1000</text>
</g>
<g class="n" transform="scale(1 1)">
<text class="t s94" x="31.5" y="689.75">066</text>
<text class="s96" x="87.18" y="689.75">02</text>
<text class="s96" x="182.79" y="689.75">07</text>
<text class="s96" x="201.91" y="689.75">08</text>
<text class="s80" x="240.15" y="689.75">10</text>
<text class="s92" x="546.09" y="689.75">26</text>
<text class="s78" x="641.7" y="689.75">31</text>
<text class="bl s96" x="795.38" y="689.75">06</text>
<text class="p s78" x="1010.25" y="689.75">18</text>
<text class="p s92" x="1049.3" y="689.75">597</text>
</g>
<g class="n" transform="scale(1 1)">
<text class="t s94" x="31.5" y="708.83">069</text>
<text class="s78" x="278.39" y="708.83">12</text>
<text class="s78" x="316.64" y="708.83">14</text>
<text class="s78" x="374" y="708.83">17</text>
<text class="s96" x="431.36" y="708.83">20</text>
<text class="s78" x="450.48" y="708.83">21</text>
<text class="s92" x="546.09" y="708.83">26</text>
<text class="bl s96" x="718.38" y="708.83">02</text>
<text class="p" x="1010.25" y="708.83">6</text>
<text class="p s78" x="1049.3" y="708.83">911</text>
</g>
<g class="n" transform="scale(1 1)">
<text class="t s94" x="31.5" y="727.92">072</text>
<text class="s96" x="87.18" y="727.92">02</text>
<text class="s96" x="163.67" y="727.92">06</text>
<text class="s80" x="240.15" y="727.92">10</text>
<text class="s92" x="507.85" y="727.92">24</text>
<text class="s92" x="526.97" y="727.92">25</text>
<text class="s92" x="679.94" y="727.92">33</text>
<text class="bl s96" x="853.12" y="727.92">09</text>
<text class="p" x="1010.25" y="727.92">7</text>
<text class="p s92" x="1049.3" y="727.92">664</text>
</g>
<g class="n" transform="scale(1 1)">
<text class="t s94" x="31.5" y="747">075</text>
<text class="s78" x="297.52" y="747">13</text>
<text class="s78" x="335.76" y="747">15</text>
<text class="s92" x="507.85" y="747">24</text>
<text class="s92" x="584.33" y="747">28</text>
<text class="s96" x="622.58" y="747">30</text>
<text class="r s78" x="641.7" y="747">31</text>
<text class="bl s80" x="699.12" y="747">01</text>
<text class="p" x="1010.25" y="747">9</text>
<text class="p s92" x="1049.3" y="747">694</text>
</g>
<g class="n" transform="scale(1 1)">
<text class="t s94" x="31.5" y="766.08">078</text>
<text class="s96" x="163.67" y="766.08">06</text>
<text class="s96" x="201.91" y="766.08">08</text>
<text class="s78" x="316.64" y="766.08">14</text>
<text class="s78" x="412.24" y="766.08">19</text>
<text class="s96" x="622.58" y="766.08">30</text>
<text class="r s78" x="641.7" y="766.08">31</text>
<text class="bl s96" x="833.88" y="766.08">08</text>
<text class="p s92" x="1010.25" y="766.08">22</text>
<text class="p s92" x="1049.3" y="766.08">542</text>
</g>
<g class="n" transform="scale(1 1)">
<text class="t s84" x="31.5" y="785.16">081</text>
<text class="s80" x="68.06" y="785.16">01</text>
<text class="s78" x="259.27" y="785.16">11</text>
<text class="s78" x="335.76" y="785.16">15</text>
<text class="s78" x="354.88" y="785.16">16</text>
<text class="s92" x="469.61" y="785.16">22</text>
<text class="r s78" x="641.7" y="785.16">31</text>
<text class="bl s78" x="968.62" y="785.16">15</text>
<text class="p" x="1010.25" y="785.16">6</text>
<text class="p s92" x="1049.3" y="785.16">852</text>
</g>
<g class="n" transform="scale(1 1)">
<text class="t s94" x="31.5" y="804.25">084</text>
<text class="r s96" x="221.03" y="804.25">09</text>
<text class="s78" x="297.52" y="804.25">13</text>
<text class="s78" x="316.64" y="804.25">14</text>
<text class="s78" x="374" y="804.25">17</text>
<text class="s78" x="412.24" y="804.25">19</text>
<text class="s92" x="565.21" y="804.25">27</text>
<text class="bl s96" x="737.62" y="804.25">03</text>
<text class="p" x="1010.25" y="804.25">5</text>
<text class="p s82" x="1049.3" y="804.25">914</text>
</g>
<g class="n" transform="scale(1 1)">
<text class="t s94" x="31.5" y="823.33">087</text>
<text class="s96" x="87.18" y="823.33">02</text>
<text class="r s96" x="221.03" y="823.33">09</text>
<text class="s78" x="335.76" y="823.33">15</text>
<text class="s78" x="374" y="823.33">17</text>
<text class="s92" x="584.33" y="823.33">28</text>
<text class="s92" x="679.94" y="823.33">33</text>
<text class="bl s80" x="699.12" y="823.33">01</text>
<text class="p" x="1010.25" y="823.33">9</text>
<text class="p s92" x="1049.3" y="823.33">745</text>
</g>
<g class="n" transform="scale(1 1)">
<text class="r s98" x="31.5" y="842.41">090</text>
<text class="s80" x="68.06" y="842.41">01</text>
<text class="s96" x="87.18" y="842.41">02</text>
<text class="r s96" x="221.03" y="842.41">09</text>
<text class="s92" x="546.09" y="842.41">26</text>
<text class="s96" x="622.58" y="842.41">30</text>
<text class="s78" x="641.7" y="842.41">31</text>
<text class="bl s96" x="814.62" y="842.41">07</text>
<text class="p" x="1010.25" y="842.41">4</text>
<text class="p s94" x="1049.3" y="842.41">930</text>
</g>
<g class="n" transform="scale(1 1)">
<text class="t s94" x="31.5" y="861.5">093</text>
<text class="s80" x="240.15" y="861.5">10</text>
<text class="s78" x="450.48" y="861.5">21</text>
<text class="s92" x="507.85" y="861.5">24</text>
<text class="s92" x="526.97" y="861.5">25</text>
<text class="s92" x="565.21" y="861.5">27</text>
<text class="s92" x="660.82" y="861.5">32</text>
<text class="bl s96" x="814.62" y="861.5">07</text>
<text class="p" x="1010.25" y="861.5">2</text>
<text class="p s96" x="1049.3" y="861.5">1000</text>
</g>
<g class="n" transform="scale(1 1)">
<text class="t s94" x="31.5" y="880.58">096</text>
<text class="s96" x="201.91" y="880.58">08</text>
<text class="s78" x="259.27" y="880.58">11</text>
<text class="s78" x="393.12" y="880.58">18</text>
<text class="s92" x="546.09" y="880.58">26</text>
<text class="s78" x="641.7" y="880.58">31</text>
<text class="s92" x="660.82" y="880.58">32</text>
<text class="bl s78" x="968.62" y="880.58">15</text>
<text class="p" x="1010.25" y="880.58">8</text>
<text class="p s92" x="1049.3" y="880.58">778</text>
</g>
<g class="n" transform="scale(1 1)">
<text class="t s94" x="31.5" y="899.66">099</text>
<text class="s96" x="221.03" y="899.66">09</text>
<text class="s78" x="259.27" y="899.66">11</text>
<text class="s78" x="316.64" y="899.66">14</text>
<text class="s78" x="412.24" y="899.66">19</text>
<text class="s92" x="565.21" y="899.66">27</text>
<text class="s92" x="679.94" y="899.66">33</text>
<text class="bl s96" x="776.12" y="899.66">05</text>
<text class="p s78" x="1010.25" y="899.66">18</text>
<text class="p s82" x="1049.3" y="899.66">617</text>
</g>
<g class="n" transform="scale(1 1)">
<text class="t s84" x="31.5" y="918.75">102</text>
<text class="r s80" x="68.06" y="918.75">01</text>
<text class="s96" x="221.03" y="918.75">09</text>
<text class="s80" x="240.15" y="918.75">10</text>
<text class="s78" x="297.52" y="918.75">13</text>
<text class="s78" x="450.48" y="918.75">21</text>
<text class="s92" x="584.33" y="918.75">28</text>
<text class="bl s80" x="872.38" y="918.75">10</text>
<text class="p s80" x="1010.25" y="918.75">10</text>
<text class="p s82" x="1049.3" y="918.75">661</text>
</g>
<g class="n" transform="scale(1 1)">
<text class="t s84" x="31.5" y="937.83">105</text>
<text class="r s80" x="68.06" y="937.83">01</text>
<text class="s96" x="106.3" y="937.83">03</text>
<text class="s96" x="144.55" y="937.83">05</text>
<text class="s92" x="546.09" y="937.83">26</text>
<text class="s96" x="622.58" y="937.83">30</text>
<text class="s92" x="660.82" y="937.83">32</text>
<text class="bl s78" x="987.88" y="937.83">16</text>
<text class="p" x="1010.25" y="937.83">3</text>
<text class="p s96" x="1049.3" y="937.83">1000</text>
</g>
<g class="n" transform="scale(1 1)">
<text class="t s84" x="31.5" y="956.91">108</text>
<text class="r s80" x="68.06" y="956.91">01</text>
<text class="s96" x="106.3" y="956.91">03</text>
<text class="s96" x="163.67" y="956.91">06</text>
<text class="s96" x="201.91" y="956.91">08</text>
<text class="s78" x="393.12" y="956.91">18</text>
<text class="s92" x="507.85" y="956.91">24</text>
<text class="bl s96" x="853.12" y="956.91">09</text>
<text class="p s78" x="1010.25" y="956.91">12</text>
<text class="p s98" x="1049.3" y="956.91">600</text>
</g>
<g class="n" transform="scale(1 1)">
<text class="t s78" x="31.5" y="975.99">111</text>
<text class="s96" x="144.55" y="975.99">05</text>
<text class="s96" x="163.67" y="975.99">06</text>
<text class="s78" x="278.39" y="975.99">12</text>
<text class="s78" x="374" y="975.99">17</text>
<text class="s96" x="431.36" y="975.99">20</text>
<text class="s92" x="679.94" y="975.99">33</text>
<text class="bl s96" x="853.12" y="975.99">09</text>
<text class="p" x="1010.25" y="975.99">4</text>
<text class="p s96" x="1049.3" y="975.99">1000</text>
</g>
<g class="n" transform="scale(1 1)">
<text class="t s78" x="31.5" y="995.08">115</text>
<text class="r s96" x="87.18" y="995.08">02</text>
<text class="s96" x="182.79" y="995.08">07</text>
<text class="s78" x="354.88" y="995.08">16</text>
<text class="s78" x="450.48" y="995.08">21</text>
<text class="s92" x="546.09" y="995.08">26</text>
<text class="s92" x="565.21" y="995.08">27</text>
<text class="bl s78" x="987.88" y="995.08">16</text>
<text class="p s78" x="1010.25" y="995.08">13</text>
<text class="p s92" x="1049.3" y="995.08">668</text>
</g>
<g class="n" transform="scale(1 1)">
<text class="t s78" x="31.5" y="1014.16">118</text>
<text class="s80" x="68.06" y="1014.16">01</text>
<text class="r s96" x="87.18" y="1014.16">02</text>
<text class="s78" x="259.27" y="1014.16">11</text>
<text class="s78" x="412.24" y="1014.16">19</text>
<text class="r s92" x="526.97" y="1014.16">25</text>
<text class="s92" x="603.45" y="1014.16">29</text>
<text class="bl s96" x="756.88" y="1014.16">04</text>
<text class="p" x="1010.25" y="1014.16">9</text>
<text class="p s92" x="1049.3" y="1014.16">722</text>
</g>
<g class="n" transform="scale(1 1)">
<text class="r s78" x="31.5" y="1033.24">121</text>
<text class="r s96" x="87.18" y="1033.24">02</text>
<text class="s78" x="278.39" y="1033.24">12</text>
<text class="s78" x="354.88" y="1033.24">16</text>
<text class="r s92" x="526.97" y="1033.24">25</text>
<text class="s96" x="622.58" y="1033.24">30</text>
<text class="s78" x="641.7" y="1033.24">31</text>
<text class="bl s78" x="910.88" y="1033.24">12</text>
<text class="p" x="1010.25" y="1033.24">8</text>
<text class="p s94" x="1049.3" y="1033.24">780</text>
</g>
<g class="n" transform="scale(1 1)">
<text class="t s82" x="31.5" y="1052.33">124</text>
<text class="r s96" x="87.18" y="1052.33">02</text>
<text class="s96" x="106.3" y="1052.33">03</text>
<text class="s78" x="374" y="1052.33">17</text>
<text class="s78" x="393.12" y="1052.33">18</text>
<text class="r s92" x="526.97" y="1052.33">25</text>
<text class="s96" x="622.58" y="1052.33">30</text>
<text class="bl s78" x="891.62" y="1052.33">11</text>
<text class="p" x="1010.25" y="1052.33">8</text>
<text class="p s82" x="1049.3" y="1052.33">719</text>
</g>
<g class="n" transform="scale(1 1)">
<text class="t s82" x="31.5" y="1071.41">127</text>
<text class="s96" x="106.3" y="1071.41">03</text>
<text class="s96" x="201.91" y="1071.41">08</text>
<text class="s78" x="412.24" y="1071.41">19</text>
<text class="r s92" x="469.61" y="1071.41">22</text>
<text class="s92" x="546.09" y="1071.41">26</text>
<text class="s92" x="660.82" y="1071.41">32</text>
<text class="bl s78" x="949.38" y="1071.41">14</text>
<text class="p s78" x="1010.25" y="1071.41">13</text>
<text class="p s92" x="1049.3" y="1071.41">689</text>
</g>
<g class="n" transform="scale(1 1)">
<text class="t s84" x="31.5" y="1090.49">130</text>
<text class="s96" x="125.42" y="1090.49">04</text>
<text class="r s80" x="240.15" y="1090.49">10</text>
<text class="s78" x="374" y="1090.49">17</text>
<text class="r s92" x="469.61" y="1090.49">22</text>
<text class="s92" x="488.73" y="1090.49">23</text>
<text class="s92" x="660.82" y="1090.49">32</text>
<text class="bl s78" x="987.88" y="1090.49">16</text>
<text class="p" x="1010.25" y="1090.49">3</text>
<text class="p s96" x="1049.3" y="1090.49">1000</text>
</g>
<g class="n" transform="scale(1 1)">
<text class="t s82" x="31.5" y="1109.58">133</text>
<text class="s96" x="125.42" y="1109.58">04</text>
<text class="s96" x="144.55" y="1109.58">05</text>
<text class="r s80" x="240.15" y="1109.58">10</text>
<text class="s78" x="316.64" y="1109.58">14</text>
<text class="r s92" x="469.61" y="1109.58">22</text>
<text class="s92" x="526.97" y="1109.58">25</text>
<text class="bl s96" x="737.62" y="1109.58">03</text>
<text class="p s78" x="1010.25" y="1109.58">17</text>
<text class="p s82" x="1049.3" y="1109.58">651</text>
</g>
<g class="n" transform="scale(1 1)">
<text class="t s82" x="31.5" y="1128.66">136</text>
<text class="s96" x="106.3" y="1128.66">03</text>
<text class="s96" x="144.55" y="1128.66">05</text>
<text class="r s80" x="240.15" y="1128.66">10</text>
<text class="r s78" x="450.48" y="1128.66">21</text>
<text class="r s92" x="469.61" y="1128.66">22</text>
<text class="s92" x="546.09" y="1128.66">26</text>
<text class="bl s80" x="872.38" y="1128.66">10</text>
<text class="p s78" x="1010.25" y="1128.66">21</text>
<text class="p s94" x="1049.3" y="1128.66">607</text>
</g>
<g class="n" transform="scale(1 1)">
<text class="t s82" x="31.5" y="1147.74">139</text>
<text class="s78" x="278.39" y="1147.74">12</text>
<text class="s78" x="316.64" y="1147.74">14</text>
<text class="s78" x="412.24" y="1147.74">19</text>
<text class="r s78" x="450.48" y="1147.74">21</text>
<text class="s92" x="565.21" y="1147.74">27</text>
<text class="s78" x="641.7" y="1147.74">31</text>
<text class="bl s78" x="891.62" y="1147.74">11</text>
<text class="p" x="1010.25" y="1147.74">7</text>
<text class="p s92" x="1049.3" y="1147.74">946</text>
</g>
<g class="n" transform="scale(1 1)">
<text class="t s82" x="31.5" y="1166.82">142</text>
<text class="s96" x="87.18" y="1166.82">02</text>
<text class="s96" x="201.91" y="1166.82">08</text>
<text class="s96" x="431.36" y="1166.82">20</text>
<text class="r s78" x="450.48" y="1166.82">21</text>
<text class="s92" x="565.21" y="1166.82">27</text>
<text class="s92" x="679.94" y="1166.82">33</text>
<text class="bl s78" x="949.38" y="1166.82">14</text>
<text class="p" x="1010.25" y="1166.82">3</text>
<text class="p s96" x="1049.3" y="1166.82">1000</text>
</g>
<g class="n" transform="scale(1 1)">
<text class="t s82" x="31.5" y="1185.91">145</text>
<text class="s96" x="182.79" y="1185.91">07</text>
<text class="s80" x="240.15" y="1185.91">10</text>
<text class="r s78" x="450.48" y="1185.91">21</text>
<text class="r s92" x="469.61" y="1185.91">22</text>
<text class="r s92" x="488.73" y="1185.91">23</text>
<text class="r s92" x="507.85" y="1185.91">24</text>
<text class="bl s78" x="891.62" y="1185.91">11</text>
<text class="p" x="1010.25" y="1185.91">8</text>
<text class="p s92" x="1049.3" y="1185.91">832</text>
</g>
<g class="n" transform="scale(1 1)">
<text class="t s82" x="31.5" y="1204.99">148</text>
<text class="s96" x="106.3" y="1204.99">03</text>
<text class="s96" x="144.55" y="1204.99">05</text>
<text class="s96" x="182.79" y="1204.99">07</text>
<text class="s96" x="221.03" y="1204.99">09</text>
<text class="s78" x="412.24" y="1204.99">19</text>
<text class="s96" x="431.36" y="1204.99">20</text>
<text class="bl s96" x="833.88" y="1204.99">08</text>
<text class="p s92" x="1010.25" y="1204.99">39</text>
<text class="p s82" x="1049.3" y="1204.99">541</text>
</g>
<g class="n" transform="scale(1 1)">
<text class="r s78" x="31.5" y="1224.07">151</text>
<text class="s80" x="68.06" y="1224.07">01</text>
<text class="s78" x="335.76" y="1224.07">15</text>
<text class="s78" x="354.88" y="1224.07">16</text>
<text class="s96" x="431.36" y="1224.07">20</text>
<text class="s92" x="526.97" y="1224.07">25</text>
<text class="s92" x="565.21" y="1224.07">27</text>
<text class="bl s96" x="776.12" y="1224.07">05</text>
<text class="p s80" x="1010.25" y="1224.07">10</text>
<text class="p s94" x="1049.3" y="1224.07">780</text>
</g>
<g class="n" transform="scale(1 1)">
<text class="t s98" x="31.5" y="1243.16">003</text>
<text class="s80" x="68.06" y="1243.16">01</text>
<text class="s96" x="144.55" y="1243.16">05</text>
<text class="s96" x="201.91" y="1243.16">08</text>
<text class="s78" x="297.52" y="1243.16">13</text>
<text class="s92" x="660.82" y="1243.16">32</text>
<text class="s92" x="679.94" y="1243.16">33</text>
<text class="bl s96" x="737.62" y="1243.16">03</text>
<text class="p s78" x="1010.25" y="1243.16">12</text>
<text class="p s92" x="1049.3" y="1243.16">674</text>
</g>
<g class="n" transform="scale(1 1)">
<text class="t s98" x="31.5" y="1262.24">006</text>
<text class="r s96" x="182.79" y="1262.24">07</text>
<text class="s78" x="393.12" y="1262.24">18</text>
<text class="s96" x="431.36" y="1262.24">20</text>
<text class="s78" x="450.48" y="1262.24">21</text>
<text class="s92" x="546.09" y="1262.24">26</text>
<text class="s92" x="660.82" y="1262.24">32</text>
<text class="bl s96" x="776.12" y="1262.24">05</text>
<text class="p s78" x="1010.25" y="1262.24">11</text>
<text class="p s92" x="1049.3" y="1262.24">726</text>
</g>
<g class="n" transform="scale(1 1)">
<text class="t s98" x="31.5" y="1281.32">009</text>
<text class="s80" x="68.06" y="1281.32">01</text>
<text class="s96" x="125.42" y="1281.32">04</text>
<text class="r s96" x="182.79" y="1281.32">07</text>
<text class="s80" x="240.15" y="1281.32">10</text>
<text class="s78" x="374" y="1281.32">17</text>
<text class="s92" x="488.73" y="1281.32">23</text>
<text class="bl s78" x="949.38" y="1281.32">14</text>
<text class="p" x="1010.25" y="1281.32">4</text>
<text class="p s96" x="1049.3" y="1281.32">1000</text>
</g>
<g class="n" transform="scale(1 1)">
<text class="t s84" x="31.5" y="1300.41">012</text>
<text class="s80" x="68.06" y="1300.41">01</text>
<text class="s96" x="106.3" y="1300.41">03</text>
<text class="r s96" x="182.79" y="1300.41">07</text>
<text class="s78" x="393.12" y="1300.41">18</text>
<text class="s92" x="469.61" y="1300.41">22</text>
<text class="s92" x="584.33" y="1300.41">28</text>
<text class="bl s78" x="968.62" y="1300.41">15</text>
<text class="p" x="1010.25" y="1300.41">7</text>
<text class="p s92" x="1049.3" y="1300.41">867</text>
</g>
<g class="n" transform="scale(1 1)">
<text class="t s84" x="31.5" y="1319.49">015</text>
<text class="s96" x="106.3" y="1319.49">03</text>
<text class="s96" x="201.91" y="1319.49">08</text>
<text class="r s78" x="374" y="1319.49">17</text>
<text class="s78" x="393.12" y="1319.49">18</text>
<text class="s96" x="431.36" y="1319.49">20</text>
<text class="s96" x="622.58" y="1319.49">30</text>
<text class="bl s78" x="968.62" y="1319.49">15</text>
<text class="p" x="1010.25" y="1319.49">7</text>
<text class="p s94" x="1049.3" y="1319.49">830</text>
</g>
<g class="n" transform="scale(1 1)">
<text class="t s84" x="31.5" y="1338.57">017</text>
<text class="s96" x="125.42" y="1338.57">04</text>
<text class="r s78" x="374" y="1338.57">17</text>
<text class="s78" x="412.24" y="1338.57">19</text>
<text class="s96" x="431.36" y="1338.57">20</text>
<text class="s92" x="526.97" y="1338.57">25</text>
<text class="s92" x="660.82" y="1338.57">32</text>
<text class="bl s96" x="756.88" y="1338.57">04</text>
<text class="p" x="1010.25" y="1338.57">3</text>
<text class="p s96" x="1049.3" y="1338.57">1000</text>
</g>
<g class="n" transform="scale(1 1)">
<text class="t s98" x="31.5" y="1357.65">020</text>
<text class="s96" x="106.3" y="1357.65">03</text>
<text class="s96" x="201.91" y="1357.65">08</text>
<text class="s78" x="278.39" y="1357.65">12</text>
<text class="s78" x="316.64" y="1357.65">14</text>
<text class="r s78" x="374" y="1357.65">17</text>
<text class="s92" x="679.94" y="1357.65">33</text>
<text class="bl s96" x="833.88" y="1357.65">08</text>
<text class="p" x="1010.25" y="1357.65">3</text>
<text class="p s96" x="1049.3" y="1357.65">1000</text>
</g>
<g class="n" transform="scale(1 1)">
<text class="t s94" x="31.5" y="1376.74">023</text>
<text class="s80" x="68.06" y="1376.74">01</text>
<text class="s80" x="240.15" y="1376.74">10</text>
<text class="s92" x="469.61" y="1376.74">22</text>
<text class="r s92" x="526.97" y="1376.74">25</text>
<text class="s92" x="584.33" y="1376.74">28</text>
<text class="s92" x="660.82" y="1376.74">32</text>
<text class="bl s80" x="872.38" y="1376.74">10</text>
<text class="p" x="1010.25" y="1376.74">4</text>
<text class="p s96" x="1049.3" y="1376.74">1000</text>
</g>
<g class="n" transform="scale(1 1)">
<text class="t s94" x="31.5" y="1395.82">026</text>
<text class="s96" x="125.42" y="1395.82">04</text>
<text class="s96" x="182.79" y="1395.82">07</text>
<text class="r s78" x="393.12" y="1395.82">18</text>
<text class="r s78" x="412.24" y="1395.82">19</text>
<text class="r s96" x="431.36" y="1395.82">20</text>
<text class="r s92" x="526.97" y="1395.82">25</text>
<text class="bl s96" x="795.38" y="1395.82">06</text>
<text class="p s78" x="1010.25" y="1395.82">14</text>
<text class="p s92" x="1049.3" y="1395.82">657</text>
</g>
<g class="n" transform="scale(1 1)">
<text class="r s94" x="31.5" y="1414.9">029</text>
<text class="s78" x="278.39" y="1414.9">12</text>
<text class="s78" x="393.12" y="1414.9">18</text>
<text class="s92" x="488.73" y="1414.9">23</text>
<text class="r s92" x="526.97" y="1414.9">25</text>
<text class="s92" x="584.33" y="1414.9">28</text>
<text class="s92" x="679.94" y="1414.9">33</text>
<text class="bl s96" x="756.88" y="1414.9">04</text>
<text class="p" x="1010.25" y="1414.9">1</text>
<text class="p s96" x="1049.3" y="1414.9">1000</text>
</g>
<g class="n" transform="scale(1 1)">
<text class="t s94" x="31.5" y="1433.99">032</text>
<text class="s80" x="68.06" y="1433.99">01</text>
<text class="s96" x="106.3" y="1433.99">03</text>
<text class="s96" x="125.42" y="1433.99">04</text>
<text class="s78" x="259.27" y="1433.99">11</text>
<text class="s78" x="278.39" y="1433.99">12</text>
<text class="s78" x="450.48" y="1433.99">21</text>
<text class="bl s78" x="987.88" y="1433.99">16</text>
<text class="p s78" x="1010.25" y="1433.99">14</text>
<text class="p s82" x="1049.3" y="1433.99">681</text>
</g>
<g class="n" transform="scale(1 1)">
<text class="t s94" x="31.5" y="1453.07">035</text>
<text class="s96" x="144.55" y="1453.07">05</text>
<text class="s96" x="182.79" y="1453.07">07</text>
<text class="s78" x="316.64" y="1453.07">14</text>
<text class="s78" x="374" y="1453.07">17</text>
<text class="s92" x="469.61" y="1453.07">22</text>
<text class="s92" x="660.82" y="1453.07">32</text>
<text class="bl s96" x="795.38" y="1453.07">06</text>
<text class="p s78" x="1010.25" y="1453.07">21</text>
<text class="p s92" x="1049.3" y="1453.07">582</text>
</g>
<g class="n" transform="scale(1 1)">
<text class="t s94" x="31.5" y="1472.15">038</text>
<text class="s96" x="201.91" y="1472.15">08</text>
<text class="s80" x="240.15" y="1472.15">10</text>
<text class="s78" x="393.12" y="1472.15">18</text>
<text class="s92" x="488.73" y="1472.15">23</text>
<text class="s92" x="565.21" y="1472.15">27</text>
<text class="s78" x="641.7" y="1472.15">31</text>
<text class="bl s96" x="718.38" y="1472.15">02</text>
<text class="p" x="1010.25" y="1472.15">3</text>
<text class="p s96" x="1049.3" y="1472.15">1000</text>
</g>
<g class="n" transform="scale(1 1)">
<text class="t s84" x="31.5" y="1491.24">041</text>
<text class="s96" x="87.18" y="1491.24">02</text>
<text class="s96" x="221.03" y="1491.24">09</text>
<text class="s78" x="278.39" y="1491.24">12</text>
<text class="s92" x="469.61" y="1491.24">22</text>
<text class="s92" x="526.97" y="1491.24">25</text>
<text class="s92" x="679.94" y="1491.24">33</text>
<text class="bl s78" x="987.88" y="1491.24">16</text>
<text class="p s92" x="1010.25" y="1491.24">67</text>
<text class="p s82" x="1049.3" y="1491.24">531</text>
</g>
<g class="n" transform="scale(1 1)">
<text class="t s94" x="31.5" y="1510.32">044</text>
<text class="s96" x="87.18" y="1510.32">02</text>
<text class="s96" x="163.67" y="1510.32">06</text>
<text class="s78" x="374" y="1510.32">17</text>
<text class="s92" x="526.97" y="1510.32">25</text>
<text class="s92" x="660.82" y="1510.32">32</text>
<text class="s92" x="679.94" y="1510.32">33</text>
<text class="bl s96" x="795.38" y="1510.32">06</text>
<text class="p" x="1010.25" y="1510.32">5</text>
<text class="p s92" x="1049.3" y="1510.32">844</text>
</g>
<g class="n" transform="scale(1 1)">
<text class="t s94" x="31.5" y="1529.4">047</text>
<text class="r s96" x="182.79" y="1529.4">07</text>
<text class="s96" x="201.91" y="1529.4">08</text>
<text class="s78" x="450.48" y="1529.4">21</text>
<text class="s92" x="546.09" y="1529.4">26</text>
<text class="s92" x="603.45" y="1529.4">29</text>
<text class="s96" x="622.58" y="1529.4">30</text>
<text class="bl s78" x="968.62" y="1529.4">15</text>
<text class="p s92" x="1010.25" y="1529.4">26</text>
<text class="p s92" x="1049.3" y="1529.4">592</text>
</g>
<g class="n" transform="scale(1 1)">
<text class="t s98" x="31.5" y="1548.48">050</text>
<text class="s80" x="68.06" y="1548.48">01</text>
<text class="s96" x="106.3" y="1548.48">03</text>
<text class="r s96" x="182.79" y="1548.48">07</text>
<text class="s80" x="240.15" y="1548.48">10</text>
<text class="s92" x="469.61" y="1548.48">22</text>
<text class="s92" x="679.94" y="1548.48">33</text>
<text class="bl s96" x="718.38" y="1548.48">02</text>
<text class="p s78" x="1010.25" y="1548.48">13</text>
<text class="p s94" x="1049.3" y="1548.48">670</text>
</g>
<g class="n" transform="scale(1 1)">
<text class="t s94" x="31.5" y="1567.57">053</text>
<text class="r s96" x="182.79" y="1567.57">07</text>
<text class="s78" x="316.64" y="1567.57">14</text>
<text class="s78" x="450.48" y="1567.57">21</text>
<text class="s92" x="469.61" y="1567.57">22</text>
<text class="s92" x="584.33" y="1567.57">28</text>
<text class="s92" x="679.94" y="1567.57">33</text>
<text class="bl s96" x="814.62" y="1567.57">07</text>
<text class="p s78" x="1010.25" y="1567.57">14</text>
<text class="p s92" x="1049.3" y="1567.57">598</text>
</g>
<g class="n" transform="scale(1 1)">
<text class="t s94" x="31.5" y="1586.65">056</text>
<text class="s96" x="144.55" y="1586.65">05</text>
<text class="s78" x="393.12" y="1586.65">18</text>
<text class="s96" x="431.36" y="1586.65">20</text>
<text class="r s92" x="507.85" y="1586.65">24</text>
<text class="r s92" x="526.97" y="1586.65">25</text>
<text class="r s92" x="546.09" y="1586.65">26</text>
<text class="bl s96" x="795.38" y="1586.65">06</text>
<text class="p" x="1010.25" y="1586.65">6</text>
<text class="p s92" x="1049.3" y="1586.65">799</text>
</g>
<g class="n" transform="scale(1 1)">
<text class="r s94" x="31.5" y="1605.73">059</text>
<text class="s80" x="68.06" y="1605.73">01</text>
<text class="s96" x="106.3" y="1605.73">03</text>
<text class="s78" x="316.64" y="1605.73">14</text>
<text class="s92" x="526.97" y="1605.73">25</text>
<text class="s78" x="641.7" y="1605.73">31</text>
<text class="s92" x="679.94" y="1605.73">33</text>
<text class="bl s96" x="814.62" y="1605.73">07</text>
<text class="p" x="1010.25" y="1605.73">6</text>
<text class="p s92" x="1049.3" y="1605.73">822</text>
</g>
<g class="n" transform="scale(1 1)">
<text class="t s94" x="31.5" y="1624.82">062</text>
<text class="s80" x="68.06" y="1624.82">01</text>
<text class="s96" x="182.79" y="1624.82">07</text>
<text class="s80" x="240.15" y="1624.82">10</text>
<text class="s78" x="354.88" y="1624.82">16</text>
<text class="s78" x="393.12" y="1624.82">18</text>
<text class="s92" x="565.21" y="1624.82">27</text>
<text class="bl s78" x="987.88" y="1624.82">16</text>
<text class="p" x="1010.25" y="1624.82">5</text>
<text class="p s92" x="1049.3" y="1624.82">956</text>
</g>
<g class="n" transform="scale(1 1)">
<text class="t s94" x="31.5" y="1643.9">065</text>
<text class="s96" x="106.3" y="1643.9">03</text>
<text class="s96" x="144.55" y="1643.9">05</text>
<text class="s96" x="221.03" y="1643.9">09</text>
<text class="s80" x="240.15" y="1643.9">10</text>
<text class="r s78" x="412.24" y="1643.9">19</text>
<text class="s92" x="469.61" y="1643.9">22</text>
<text class="bl s78" x="949.38" y="1643.9">14</text>
<text class="p s80" x="1010.25" y="1643.9">10</text>
<text class="p s94" x="1049.3" y="1643.9">709</text>
</g>
<g class="n" transform="scale(1 1)">
<text class="t s94" x="31.5" y="1662.98">068</text>
<text class="s80" x="68.06" y="1662.98">01</text>
<text class="s96" x="87.18" y="1662.98">02</text>
<text class="s96" x="182.79" y="1662.98">07</text>
<text class="r s78" x="412.24" y="1662.98">19</text>
<text class="r s96" x="431.36" y="1662.98">20</text>
<text class="r s78" x="450.48" y="1662.98">21</text>
<text class="bl s80" x="699.12" y="1662.98">01</text>
<text class="p s92" x="1010.25" y="1662.98">25</text>
<text class="p s94" x="1049.3" y="1662.98">550</text>
</g>
<g class="n" transform="scale(1 1)">
<text class="t s84" x="31.5" y="1682.07">071</text>
<text class="s96" x="87.18" y="1682.07">02</text>
<text class="s96" x="201.91" y="1682.07">08</text>
<text class="r s78" x="412.24" y="1682.07">19</text>
<text class="s92" x="584.33" y="1682.07">28</text>
<text class="s96" x="622.58" y="1682.07">30</text>
<text class="s78" x="641.7" y="1682.07">31</text>
<text class="bl s78" x="949.38" y="1682.07">14</text>
<text class="p s78" x="1010.25" y="1682.07">11</text>
<text class="p s94" x="1049.3" y="1682.07">705</text>
</g>
<g class="n" transform="scale(1 1)">
<text class="t s94" x="31.5" y="1701.15">074</text>
<text class="s96" x="182.79" y="1701.15">07</text>
<text class="s96" x="201.91" y="1701.15">08</text>
<text class="s80" x="240.15" y="1701.15">10</text>
<text class="s92" x="469.61" y="1701.15">22</text>
<text class="s92" x="507.85" y="1701.15">24</text>
<text class="s92" x="660.82" y="1701.15">32</text>
<text class="bl s96" x="814.62" y="1701.15">07</text>
<text class="p" x="1010.25" y="1701.15">5</text>
<text class="p s98" x="1049.3" y="1701.15">700</text>
</g>
<g class="n" transform="scale(1 1)">
<text class="t s94" x="31.5" y="1720.23">077</text>
<text class="s80" x="68.06" y="1720.23">01</text>
<text class="s96" x="125.42" y="1720.23">04</text>
<text class="s96" x="163.67" y="1720.23">06</text>
<text class="s78" x="316.64" y="1720.23">14</text>
<text class="s78" x="374" y="1720.23">17</text>
<text class="s92" x="469.61" y="1720.23">22</text>
<text class="bl s96" x="833.88" y="1720.23">08</text>
<text class="p" x="1010.25" y="1720.23">5</text>
<text class="p s92" x="1049.3" y="1720.23">755</text>
</g>
<g class="n" transform="scale(1 1)">
<text class="t s98" x="31.5" y="1739.31">080</text>
<text class="s96" x="163.67" y="1739.31">06</text>
<text class="s78" x="259.27" y="1739.31">11</text>
<text class="s78" x="278.39" y="1739.31">12</text>
<text class="s92" x="565.21" y="1739.31">27</text>
<text class="s92" x="603.45" y="1739.31">29</text>
<text class="s96" x="622.58" y="1739.31">30</text>
<text class="bl s78" x="930.12" y="1739.31">13</text>
<text class="p" x="1010.25" y="1739.31">9</text>
<text class="p s92" x="1049.3" y="1739.31">727</text>
</g>
<g class="n" transform="scale(1 1)">
<text class="t s94" x="31.5" y="1758.4">083</text>
<text class="s96" x="106.3" y="1758.4">03</text>
<text class="s96" x="221.03" y="1758.4">09</text>
<text class="s78" x="316.64" y="1758.4">14</text>
<text class="s92" x="603.45" y="1758.4">29</text>
<text class="s92" x="660.82" y="1758.4">32</text>
<text class="s92" x="679.94" y="1758.4">33</text>
<text class="bl s78" x="968.62" y="1758.4">15</text>
<text class="p" x="1010.25" y="1758.4">8</text>
<text class="p s94" x="1049.3" y="1758.4">780</text>
</g>
<g class="n" transform="scale(1 1)">
<text class="t s94" x="31.5" y="1777.48">086</text>
<text class="s78" x="374" y="1777.48">17</text>
<text class="s78" x="412.24" y="1777.48">19</text>
<text class="s96" x="431.36" y="1777.48">20</text>
<text class="s92" x="488.73" y="1777.48">23</text>
<text class="s92" x="526.97" y="1777.48">25</text>
<text class="s78" x="641.7" y="1777.48">31</text>
<text class="bl s96" x="718.38" y="1777.48">02</text>
<text class="p" x="1010.25" y="1777.48">3</text>
<text class="p s96" x="1049.3" y="1777.48">1000</text>
</g>
<g class="n" transform="scale(1 1)">
<text class="r s94" x="31.5" y="1796.56">089</text>
<text class="s96" x="106.3" y="1796.56">03</text>
<text class="s96" x="163.67" y="1796.56">06</text>
<text class="s96" x="221.03" y="1796.56">09</text>
<text class="s78" x="335.76" y="1796.56">15</text>
<text class="s78" x="393.12" y="1796.56">18</text>
<text class="s78" x="641.7" y="1796.56">31</text>
<text class="bl s80" x="699.12" y="1796.56">01</text>
<text class="p s78" x="1010.25" y="1796.56">12</text>
<text class="p s92" x="1049.3" y="1796.56">662</text>
</g>
<g class="n" transform="scale(1 1)">
<text class="t s94" x="31.5" y="1815.65">092</text>
<text class="s96" x="106.3" y="1815.65">03</text>
<text class="s96" x="201.91" y="1815.65">08</text>
<text class="s78" x="259.27" y="1815.65">11</text>
<text class="s78" x="278.39" y="1815.65">12</text>
<text class="s78" x="393.12" y="1815.65">18</text>
<text class="s92" x="603.45" y="1815.65">29</text>
<text class="bl s96" x="776.12" y="1815.65">05</text>
<text class="p s78" x="1010.25" y="1815.65">14</text>
<text class="p s94" x="1049.3" y="1815.65">606</text>
</g>
<g class="n" transform="scale(1 1)">
<text class="t s94" x="31.5" y="1834.73">095</text>
<text class="s96" x="125.42" y="1834.73">04</text>
<text class="s96" x="163.67" y="1834.73">06</text>
<text class="s96" x="221.03" y="1834.73">09</text>
<text class="s78" x="316.64" y="1834.73">14</text>
<text class="s78" x="354.88" y="1834.73">16</text>
<text class="s78" x="450.48" y="1834.73">21</text>
<text class="bl s96" x="737.62" y="1834.73">03</text>
<text class="p s78" x="1010.25" y="1834.73">17</text>
<text class="p s92" x="1049.3" y="1834.73">558</text>
</g>
<g class="n" transform="scale(1 1)">
<text class="t s94" x="31.5" y="1853.81">098</text>
<text class="s96" x="106.3" y="1853.81">03</text>
<text class="s96" x="201.91" y="1853.81">08</text>
<text class="s80" x="240.15" y="1853.81">10</text>
<text class="s96" x="431.36" y="1853.81">20</text>
<text class="s96" x="622.58" y="1853.81">30</text>
<text class="s78" x="641.7" y="1853.81">31</text>
<text class="bl s96" x="718.38" y="1853.81">02</text>
<text class="p" x="1010.25" y="1853.81">9</text>
<text class="p s92" x="1049.3" y="1853.81">735</text>
</g>
<g class="n" transform="scale(1 1)">
<text class="t s78" x="31.5" y="1872.9">101</text>
<text class="s96" x="201.91" y="1872.9">08</text>
<text class="s78" x="278.39" y="1872.9">12</text>
<text class="s78" x="335.76" y="1872.9">15</text>
<text class="s78" x="374" y="1872.9">17</text>
<text class="s78" x="412.24" y="1872.9">19</text>
<text class="s96" x="622.58" y="1872.9">30</text>
<text class="bl s96" x="833.88" y="1872.9">08</text>
<text class="p s78" x="1010.25" y="1872.9">11</text>
<text class="p s82" x="1049.3" y="1872.9">619</text>
</g>
<g class="n" transform="scale(1 1)">
<text class="t s84" x="31.5" y="1891.98">104</text>
<text class="s96" x="144.55" y="1891.98">05</text>
<text class="s78" x="354.88" y="1891.98">16</text>
<text class="s92" x="488.73" y="1891.98">23</text>
<text class="s92" x="507.85" y="1891.98">24</text>
<text class="s92" x="546.09" y="1891.98">26</text>
<text class="s92" x="603.45" y="1891.98">29</text>
<text class="bl s96" x="756.88" y="1891.98">04</text>
<text class="p s80" x="1010.25" y="1891.98">10</text>
<text class="p s92" x="1049.3" y="1891.98">654</text>
</g>
<g class="n" transform="scale(1 1)">
<text class="t s84" x="31.5" y="1911.06">107</text>
<text class="s80" x="68.06" y="1911.06">01</text>
<text class="s96" x="163.67" y="1911.06">06</text>
<text class="s96" x="201.91" y="1911.06">08</text>
<text class="s78" x="297.52" y="1911.06">13</text>
<text class="s78" x="374" y="1911.06">17</text>
<text class="s78" x="412.24" y="1911.06">19</text>
<text class="bl s96" x="853.12" y="1911.06">09</text>
<text class="p s78" x="1010.25" y="1911.06">18</text>
<text class="p s94" x="1049.3" y="1911.06">550</text>
</g>
<g class="n" transform="scale(1 1)">
<text class="t s78" x="31.5" y="1930.14">110</text>
<text class="s96" x="125.42" y="1930.14">04</text>
<text class="s78" x="297.52" y="1930.14">13</text>
<text class="s78" x="374" y="1930.14">17</text>
<text class="s92" x="488.73" y="1930.14">23</text>
<text class="s92" x="526.97" y="1930.14">25</text>
<text class="s92" x="679.94" y="1930.14">33</text>
<text class="bl s78" x="949.38" y="1930.14">14</text>
<text class="p" x="1010.25" y="1930.14">4</text>
<text class="p s96" x="1049.3" y="1930.14">1000</text>
</g>
<g class="n" transform="scale(1 1)">
<text class="t s78" x="31.5" y="1949.23">113</text>
<text class="s96" x="125.42" y="1949.23">04</text>
<text class="s96" x="144.55" y="1949.23">05</text>
<text class="s92" x="488.73" y="1949.23">23</text>
<text class="s92" x="507.85" y="1949.23">24</text>
<text class="s92" x="546.09" y="1949.23">26</text>
<text class="s78" x="641.7" y="1949.23">31</text>
<text class="bl s78" x="891.62" y="1949.23">11</text>
<text class="p" x="1010.25" y="1949.23">1</text>
<text class="p s96" x="1049.3" y="1949.23">1000</text>
</g>
<g class="n" transform="scale(1 1)">
<text class="t s78" x="31.5" y="1968.31">114</text>
<text class="s96" x="182.79" y="1968.31">07</text>
<text class="s78" x="259.27" y="1968.31">11</text>
<text class="s78" x="393.12" y="1968.31">18</text>
<text class="s92" x="507.85" y="1968.31">24</text>
<text class="s92" x="565.21" y="1968.31">27</text>
<text class="s92" x="660.82" y="1968.31">32</text>
<text class="bl s96" x="756.88" y="1968.31">04</text>
<text class="p" x="1010.25" y="1968.31">6</text>
<text class="p s92" x="1049.3" y="1968.31">835</text>
</g>
<g class="n" transform="scale(1 1)">
<text class="r s78" x="31.5" y="1987.39">117</text>
<text class="s96" x="106.3" y="1987.39">03</text>
<text class="s78" x="278.39" y="1987.39">12</text>
<text class="s78" x="316.64" y="1987.39">14</text>
<text class="s78" x="354.88" y="1987.39">16</text>
<text class="s92" x="603.45" y="1987.39">29</text>
<text class="s92" x="660.82" y="1987.39">32</text>
<text class="bl s78" x="910.88" y="1987.39">12</text>
<text class="p" x="1010.25" y="1987.39">4</text>
<text class="p s92" x="1049.3" y="1987.39">964</text>
</g>
<g class="n" transform="scale(1 1)">
<text class="t s84" x="31.5" y="2006.48">120</text>
<text class="s80" x="68.06" y="2006.48">01</text>
<text class="s96" x="144.55" y="2006.48">05</text>
<text class="s96" x="182.79" y="2006.48">07</text>
<text class="s78" x="259.27" y="2006.48">11</text>
<text class="s78" x="393.12" y="2006.48">18</text>
<text class="s78" x="412.24" y="2006.48">19</text>
<text class="bl s96" x="814.62" y="2006.48">07</text>
<text class="p s78" x="1010.25" y="2006.48">15</text>
<text class="p s94" x="1049.3" y="2006.48">580</text>
</g>
<g class="n" transform="scale(1 1)">
<text class="t s82" x="31.5" y="2025.56">123</text>
<text class="s96" x="87.18" y="2025.56">02</text>
<text class="s78" x="335.76" y="2025.56">15</text>
<text class="s92" x="469.61" y="2025.56">22</text>
<text class="s92" x="546.09" y="2025.56">26</text>
<text class="s96" x="622.58" y="2025.56">30</text>
<text class="s92" x="679.94" y="2025.56">33</text>
<text class="bl s96" x="756.88" y="2025.56">04</text>
<text class="p" x="1010.25" y="2025.56">7</text>
<text class="p s82" x="1049.3" y="2025.56">781</text>
</g>
<g class="n" transform="scale(1 1)">
<text class="t s82" x="31.5" y="2044.64">126</text>
<text class="s78" x="316.64" y="2044.64">14</text>
<text class="s78" x="393.12" y="2044.64">18</text>
<text class="s92" x="488.73" y="2044.64">23</text>
<text class="s92" x="507.85" y="2044.64">24</text>
<text class="s92" x="546.09" y="2044.64">26</text>
<text class="s92" x="679.94" y="2044.64">33</text>
<text class="bl s80" x="872.38" y="2044.64">10</text>
<text class="p" x="1010.25" y="2044.64">8</text>
<text class="p s92" x="1049.3" y="2044.64">789</text>
</g>
<g class="n" transform="scale(1 1)">
<text class="t s82" x="31.5" y="2063.73">129</text>
<text class="s96" x="221.03" y="2063.73">09</text>
<text class="s80" x="240.15" y="2063.73">10</text>
<text class="s78" x="297.52" y="2063.73">13</text>
<text class="s78" x="412.24" y="2063.73">19</text>
<text class="s92" x="507.85" y="2063.73">24</text>
<text class="s92" x="660.82" y="2063.73">32</text>
<text class="bl s80" x="699.12" y="2063.73">01</text>
<text class="p s78" x="1010.25" y="2063.73">16</text>
<text class="p s92" x="1049.3" y="2063.73">656</text>
</g>
<g class="n" transform="scale(1 1)">
<text class="t s82" x="31.5" y="2082.81">132</text>
<text class="s80" x="68.06" y="2082.81">01</text>
<text class="s96" x="125.42" y="2082.81">04</text>
<text class="s92" x="526.97" y="2082.81">25</text>
<text class="s92" x="565.21" y="2082.81">27</text>
<text class="s92" x="584.33" y="2082.81">28</text>
<text class="s92" x="679.94" y="2082.81">33</text>
<text class="bl s96" x="737.62" y="2082.81">03</text>
<text class="p" x="1010.25" y="2082.81">6</text>
<text class="p s92" x="1049.3" y="2082.81">926</text>
</g>
<text class="lab" x="31.5" y="2157.79">当前遗漏</text>
<g class="n" transform="scale(1 1)">
<text x="68.06" y="2159.14">0</text>
<text x="87.18" y="2159.14">3</text>
<text x="106.3" y="2159.14">5</text>
<text x="125.42" y="2159.14">0</text>
<text x="144.55" y="2159.14">4</text>
<text x="163.67" y="2159.14">9</text>
<text x="182.79" y="2159.14">4</text>
<text x="201.91" y="2159.14">9</text>
<text x="221.03" y="2159.14">1</text>
<text x="240.15" y="2159.14">1</text>
<text x="259.27" y="2159.14">4</text>
<text x="278.39" y="2159.14">5</text>
<text x="297.52" y="2159.14">1</text>
<text x="316.64" y="2159.14">2</text>
<text x="335.76" y="2159.14">3</text>
<text x="354.88" y="2159.14">5</text>
<text x="374" y="2159.14">8</text>
<text x="393.12" y="2159.14">2</text>
<text x="412.24" y="2159.14">1</text>
<text class="s78" x="431.36" y="2159.14">12</text>
<text class="s78" x="450.48" y="2159.14">13</text>
<text x="469.61" y="2159.14">3</text>
<text x="488.73" y="2159.14">2</text>
<text x="507.85" y="2159.14">1</text>
<text x="526.97" y="2159.14">0</text>
<text x="546.09" y="2159.14">2</text>
<text x="565.21" y="2159.14">0</text>
<text x="584.33" y="2159.14">0</text>
<text x="603.45" y="2159.14">5</text>
<text x="622.58" y="2159.14">3</text>
<text x="641.7" y="2159.14">7</text>
<text x="660.82" y="2159.14">1</text>
<text x="679.94" y="2159.14">0</text>
<text x="699.12" y="2159.14">1</text>
<text class="s78" x="718.38" y="2159.14">12</text>
<text x="737.62" y="2159.14">0</text>
<text x="756.88" y="2159.14">3</text>
<text class="s78" x="776.12" y="2159.14">14</text>
<text class="s92" x="795.38" y="2159.14">26</text>
<text x="814.62" y="2159.14">4</text>
<text class="s78" x="833.88" y="2159.14">11</text>
<text x="853.12" y="2159.14">9</text>
<text x="872.38" y="2159.14">2</text>
<text x="891.62" y="2159.14">7</text>
<text x="910.88" y="2159.14">5</text>
<text class="s78" x="930.12" y="2159.14">18</text>
<text x="949.38" y="2159.14">8</text>
<text class="s78" x="968.62" y="2159.14">17</text>
<text class="s92" x="987.88" y="2159.14">24</text>
</g>
<text class="lab r" x="31.5" y="2176.87">最大遗漏</text>
<g class="n r" transform="scale(1 1)">
<text class="s92" x="68.06" y="2178.22">25</text>
<text class="s78" x="87.18" y="2178.22">17</text>
<text class="s78" x="106.3" y="2178.22">18</text>
<text class="s78" x="125.42" y="2178.22">21</text>
<text class="s78" x="144.55" y="2178.22">15</text>
<text class="s92" x="163.67" y="2178.22">27</text>
<text class="s78" x="182.79" y="2178.22">15</text>
<text class="s78" x="201.91" y="2178.22">13</text>
<text class="s78" x="221.03" y="2178.22">14</text>
<text class="s80" x="240.15" y="2178.22">10</text>
<text class="s92" x="259.27" y="2178.22">24</text>
<text class="s78" x="278.39" y="2178.22">13</text>
<text class="s92" x="297.52" y="2178.22">34</text>
<text class="s80" x="316.64" y="2178.22">10</text>
<text class="s92" x="335.76" y="2178.22">29</text>
<text class="s96" x="354.88" y="2178.22">20</text>
<text class="s80" x="374" y="2178.22">10</text>
<text class="s78" x="393.12" y="2178.22">19</text>
<text class="s78" x="412.24" y="2178.22">12</text>
<text class="s78" x="431.36" y="2178.22">13</text>
<text class="s78" x="450.48" y="2178.22">13</text>
<text class="s78" x="469.61" y="2178.22">15</text>
<text class="s92" x="488.73" y="2178.22">28</text>
<text class="s96" x="507.85" y="2178.22">20</text>
<text class="s78" x="526.97" y="2178.22">17</text>
<text class="s78" x="546.09" y="2178.22">15</text>
<text class="s78" x="565.21" y="2178.22">12</text>
<text class="s96" x="584.33" y="2178.22">20</text>
<text class="s92" x="603.45" y="2178.22">26</text>
<text class="s78" x="622.58" y="2178.22">13</text>
<text class="s78" x="641.7" y="2178.22">16</text>
<text class="s78" x="660.82" y="2178.22">11</text>
<text class="s80" x="679.94" y="2178.22">10</text>
<text class="s92" x="699.12" y="2178.22">43</text>
<text class="s92" x="718.38" y="2178.22">39</text>
<text class="s96" x="737.62" y="2178.22">30</text>
<text class="s92" x="756.88" y="2178.22">24</text>
<text class="s92" x="776.12" y="2178.22">28</text>
<text class="s92" x="795.38" y="2178.22">36</text>
<text class="s92" x="814.62" y="2178.22">36</text>
<text class="s92" x="833.88" y="2178.22">22</text>
<text class="s92" x="853.12" y="2178.22">48</text>
<text class="s92" x="872.38" y="2178.22">34</text>
<text class="s92" x="891.62" y="2178.22">39</text>
<text class="s92" x="910.88" y="2178.22">49</text>
<text class="s92" x="930.12" y="2178.22">55</text>
<text class="s92" x="949.38" y="2178.22">24</text>
<text class="s78" x="968.62" y="2178.22">31</text>
<text class="s92" x="987.88" y="2178.22">33</text>
</g>
<text class="lab" x="31.5" y="2195.96">出现次数</text>
<g class="n" transform="scale(1 1)">
<text class="s92" x="68.06" y="2197.31">22</text>
<text class="s78" x="87.18" y="2197.31">21</text>
<text class="s92" x="106.3" y="2197.31">28</text>
<text class="s78" x="125.42" y="2197.31">14</text>
<text class="s78" x="144.55" y="2197.31">16</text>
<text class="s78" x="163.67" y="2197.31">16</text>
<text class="s78" x="182.79" y="2197.31">21</text>
<text class="s96" x="201.91" y="2197.31">20</text>
<text class="s96" x="221.03" y="2197.31">20</text>
<text class="s92" x="240.15" y="2197.31">23</text>
<text class="s80" x="259.27" y="2197.31">10</text>
<text class="s78" x="278.39" y="2197.31">14</text>
<text class="s78" x="297.52" y="2197.31">11</text>
<text class="s78" x="316.64" y="2197.31">17</text>
<text class="s80" x="335.76" y="2197.31">10</text>
<text class="s78" x="354.88" y="2197.31">14</text>
<text class="s92" x="374" y="2197.31">25</text>
<text class="s78" x="393.12" y="2197.31">18</text>
<text class="s92" x="412.24" y="2197.31">24</text>
<text class="s78" x="431.36" y="2197.31">16</text>
<text class="s96" x="450.48" y="2197.31">20</text>
<text class="s92" x="469.61" y="2197.31">22</text>
<text class="s78" x="488.73" y="2197.31">13</text>
<text class="s78" x="507.85" y="2197.31">16</text>
<text class="s92" x="526.97" y="2197.31">22</text>
<text class="s78" x="546.09" y="2197.31">19</text>
<text class="s78" x="565.21" y="2197.31">19</text>
<text class="s78" x="584.33" y="2197.31">14</text>
<text x="603.45" y="2197.31">9</text>
<text class="s92" x="622.58" y="2197.31">22</text>
<text class="s78" x="641.7" y="2197.31">21</text>
<text class="s92" x="660.82" y="2197.31">22</text>
<text class="s78" x="679.94" y="2197.31">21</text>
<text x="699.12" y="2197.31">5</text>
<text x="718.38" y="2197.31">6</text>
<text x="737.62" y="2197.31">9</text>
<text x="756.88" y="2197.31">8</text>
<text x="776.12" y="2197.31">5</text>
<text x="795.38" y="2197.31">8</text>
<text x="814.62" y="2197.31">6</text>
<text x="833.88" y="2197.31">8</text>
<text x="853.12" y="2197.31">6</text>
<text x="872.38" y="2197.31">5</text>
<text x="891.62" y="2197.31">6</text>
<text x="910.88" y="2197.31">3</text>
<text x="930.12" y="2197.31">3</text>
<text x="949.38" y="2197.31">9</text>
<text x="968.62" y="2197.31">6</text>
<text x="987.88" y="2197.31">7</text>
</g>
<text class="lab r" x="31.5" y="2215.04">最大连出</text>
<g class="n r" transform="scale(1 1)">
<text x="68.06" y="2216.39">3</text>
<text x="87.18" y="2216.39">4</text>
<text x="106.3" y="2216.39">3</text>
<text x="125.42" y="2216.39">2</text>
<text x="144.55" y="2216.39">2</text>
<text x="163.67" y="2216.39">2</text>
<text x="182.79" y="2216.39">3</text>
<text x="201.91" y="2216.39">2</text>
<text x="221.03" y="2216.39">3</text>
<text x="240.15" y="2216.39">3</text>
<text x="259.27" y="2216.39">2</text>
<text x="278.39" y="2216.39">2</text>
<text x="297.52" y="2216.39">3</text>
<text x="316.64" y="2216.39">1</text>
<text x="335.76" y="2216.39">1</text>
<text x="354.88" y="2216.39">3</text>
<text x="374" y="2216.39">3</text>
<text x="393.12" y="2216.39">2</text>
<text x="412.24" y="2216.39">3</text>
<text x="431.36" y="2216.39">2</text>
<text x="450.48" y="2216.39">4</text>
<text x="469.61" y="2216.39">4</text>
<text x="488.73" y="2216.39">2</text>
<text x="507.85" y="2216.39">2</text>
<text x="526.97" y="2216.39">3</text>
<text x="546.09" y="2216.39">2</text>
<text x="565.21" y="2216.39">3</text>
<text x="584.33" y="2216.39">2</text>
<text x="603.45" y="2216.39">2</text>
<text x="622.58" y="2216.39">2</text>
<text x="641.7" y="2216.39">3</text>
<text x="660.82" y="2216.39">2</text>
<text x="679.94" y="2216.39">2</text>
<text x="699.12" y="2216.39">1</text>
<text x="718.38" y="2216.39">1</text>
<text x="737.62" y="2216.39">1</text>
<text x="756.88" y="2216.39">1</text>
<text x="776.12" y="2216.39">1</text>
<text x="795.38" y="2216.39">2</text>
<text x="814.62" y="2216.39">2</text>
<text x="833.88" y="2216.39">1</text>
<text x="853.12" y="2216.39">2</text>
<text x="872.38" y="2216.39">1</text>
<text x="891.62" y="2216.39">1</text>
<text x="910.88" y="2216.39">1</text>
<text x="930.12" y="2216.39">1</text>
<text x="949.38" y="2216.39">1</text>
<text x="968.62" y="2216.39">2</text>
<text x="987.88" y="2216.39">1</text>
</g>
</svg>
<div class="edge"></div>
<div class="f1">双色球周二四日开奖</div>
<div class="f2">数据统计仅对当前展示的期数进行统计</div>
</body></html>
